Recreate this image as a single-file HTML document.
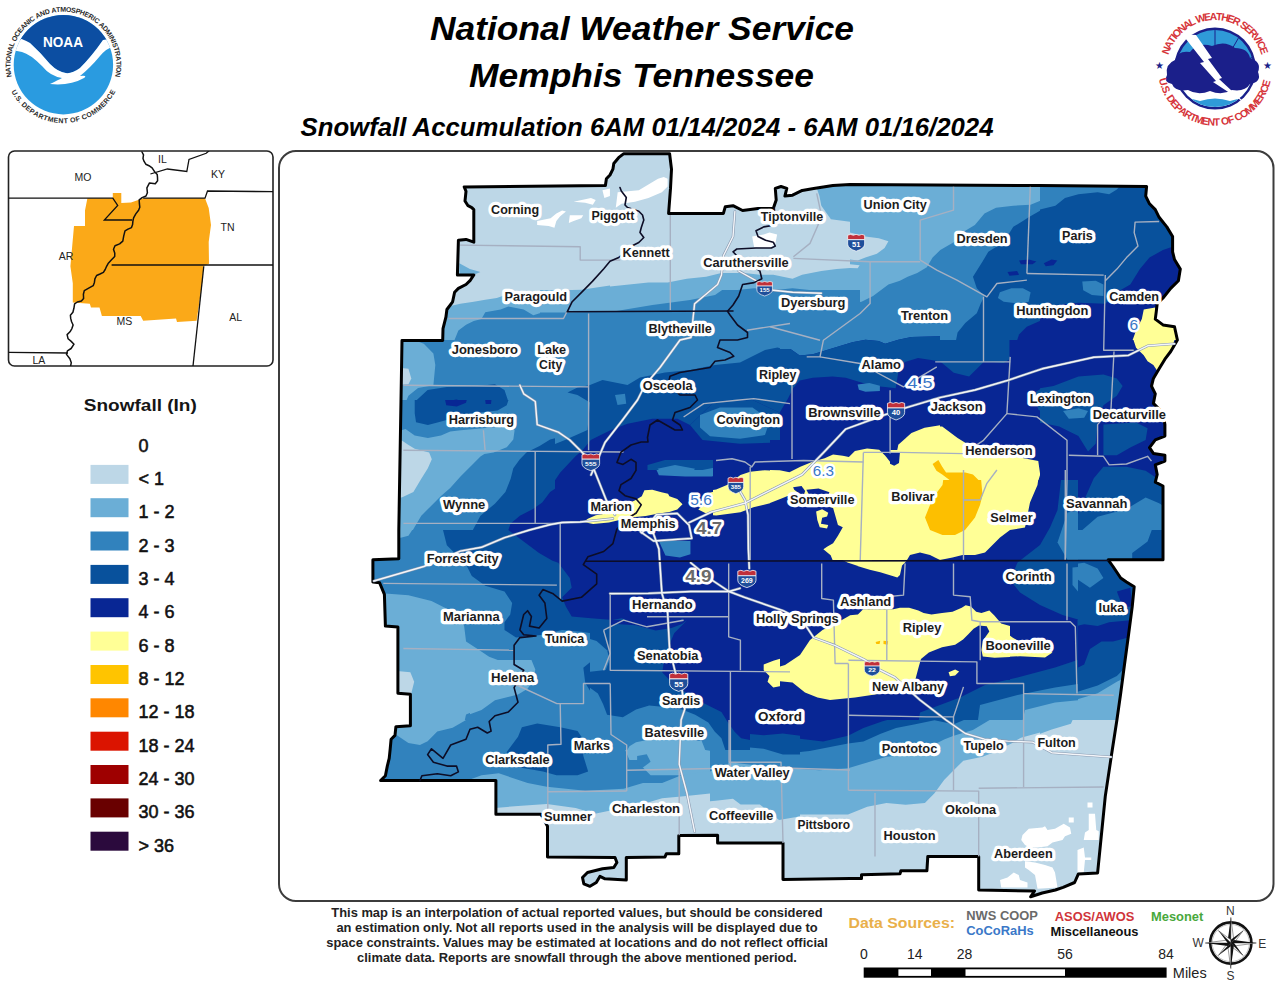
<!DOCTYPE html><html><head><meta charset="utf-8"><style>html,body{margin:0;padding:0;background:#fff;width:1280px;height:989px;overflow:hidden}svg{display:block}text{font-family:"Liberation Sans",sans-serif}</style></head><body>
<svg width="1280" height="989" viewBox="0 0 1280 989">
<rect width="1280" height="989" fill="#fff"/>
<g font-weight="bold" font-style="italic" fill="#000">
<text x="430" y="39.5" font-size="34" textLength="424" lengthAdjust="spacingAndGlyphs">National Weather Service</text>
<text x="469" y="87" font-size="34" textLength="345" lengthAdjust="spacingAndGlyphs">Memphis Tennessee</text>
<text x="300.5" y="135.5" font-size="25" textLength="693" lengthAdjust="spacingAndGlyphs">Snowfall Accumulation 6AM 01/14/2024 - 6AM 01/16/2024</text>
</g>
<rect x="279" y="151" width="994.5" height="750" rx="17" fill="none" stroke="#3c3c3c" stroke-width="2"/>
<rect x="8.5" y="151" width="264.5" height="215" rx="6" fill="none" stroke="#222" stroke-width="1.6"/>
<defs><clipPath id="cwa"><polygon points="464.2,186.9 605.4,185.5 606.4,178.8 610,175 612.9,169.2 613.8,163.5 618.6,157.7 623.5,153.8 669.6,153.8 671.5,169.2 670.5,188.4 668.6,213.4 723.4,213.4 725.3,206.7 733,205.7 742.6,210.5 758,208.6 773.3,208.6 776.2,200 775.3,188.4 781,186.5 786.8,188.4 784.9,196.1 792.6,195.2 802.2,190.4 813.7,188.4 832.9,185.5 850,184.6 1040,185.5 1146.6,186.5 1145.7,196.1 1149.5,203.8 1155.3,209.6 1159.1,217.3 1166.8,226.9 1172.6,236.5 1172.6,251.8 1174.5,259.5 1180.3,269.1 1178.4,280.7 1170.7,288.4 1163,298 1157.2,303.7 1156.3,311.4 1155.3,319.1 1163,324.9 1174.5,326.8 1177.4,340 1170.7,351.5 1164.9,359.2 1159.1,368.8 1153.4,378.4 1151.5,386.1 1155.3,393.8 1153.4,403.4 1163,413 1164.9,424.6 1164.9,436.1 1155.3,439.9 1149.5,447.6 1153.4,453.4 1164.9,455.3 1164.9,461.1 1155.3,464.9 1157.2,474.5 1155.3,482.2 1163,486 1163,559.8 1108.2,559.8 1113,566.5 1120.7,578 1126.5,581.9 1134.2,586.7 1132.2,606.9 1128.4,635.7 1124.5,664.5 1120.7,693.3 1116.9,720 1111.1,757.6 1105.3,796.1 1097.6,872.9 1078.4,873.9 1074.6,882.5 1063.1,887.4 1055.4,890 1042.2,893 1030.6,896.8 1034.5,891 978.7,890.1 978.7,856.4 927.8,856.4 926.9,870.8 900.9,870.8 900,873.7 861.5,874.7 861.5,878.5 850,878.5 783,879.5 783,843 717.6,843 717.6,835.3 678.8,835.6 678.8,853.8 666.3,853.8 665,856.9 626.3,857.5 626.3,880 605,878.8 600,876.3 596.3,882.5 590,886.3 583.8,883.8 582.5,877.5 587.5,872.5 602.5,868.8 613.8,867.5 616.9,862.5 615,857.5 547.5,856.9 547.5,826.3 541,814.2 495.9,814.2 495.9,780.5 380.6,780.5 385.4,775.7 387.3,766.1 389.2,758.4 390.2,748.8 391.1,739.2 395,735.4 395.9,726.7 410.4,725.8 410.4,694.3 397.9,693.3 397.9,627 385.4,626.1 384.4,594.4 379.6,582.8 372.9,581.9 372.9,559.8 398.8,558.8 398.8,530 401,400 402,340.5 442.7,340.5 443,328.7 445.9,317.2 446.9,309.5 452.6,301.8 454.6,292.2 458.4,288.4 466,284.5 470,280.7 473.8,274.9 457.4,274.9 458.4,240.3 466,239.4 473.8,242.2 473.8,209.6 471.8,207.6 468,205.7 465,201 466,191.3"/></clipPath>
<clipPath id="t0"><rect x="370" y="150" width="240" height="190"/></clipPath>
<clipPath id="t1"><rect x="610" y="150" width="240" height="190"/></clipPath>
<clipPath id="t2"><rect x="850" y="150" width="240" height="190"/></clipPath>
<clipPath id="t3"><rect x="1040" y="150" width="240" height="190"/></clipPath>
<clipPath id="t4"><rect x="370" y="340" width="240" height="190"/></clipPath>
<clipPath id="t5"><rect x="610" y="340" width="240" height="190"/></clipPath>
<clipPath id="t6"><rect x="850" y="340" width="240" height="190"/></clipPath>
<clipPath id="t7"><rect x="1040" y="340" width="240" height="190"/></clipPath>
<clipPath id="t8"><rect x="370" y="530" width="240" height="190"/></clipPath>
<clipPath id="t9"><rect x="610" y="530" width="240" height="190"/></clipPath>
<clipPath id="t10"><rect x="850" y="530" width="240" height="190"/></clipPath>
<clipPath id="t11"><rect x="1040" y="530" width="240" height="190"/></clipPath>
<clipPath id="t12"><rect x="370" y="720" width="240" height="190"/></clipPath>
<clipPath id="t13"><rect x="610" y="720" width="240" height="190"/></clipPath>
<clipPath id="t14"><rect x="850" y="720" width="240" height="190"/></clipPath>
<clipPath id="t15"><rect x="1090" y="720" width="190" height="190"/></clipPath>
<clipPath id="t16"><rect x="470" y="660" width="240" height="190"/></clipPath>
<clipPath id="t17"><rect x="800" y="680" width="240" height="190"/></clipPath>
<clipPath id="t18"><rect x="540" y="290" width="320" height="200"/></clipPath>
<clipPath id="t19"><rect x="780" y="480" width="298" height="240"/></clipPath>
<clipPath id="t20"><rect x="395" y="400" width="160" height="130"/></clipPath>
<clipPath id="t21"><rect x="580" y="470" width="160" height="130"/></clipPath>
<clipPath id="t22"><rect x="780" y="320" width="160" height="130"/></clipPath>
<clipPath id="t23"><rect x="590" y="620" width="160" height="130"/></clipPath>
<clipPath id="t24"><rect x="850" y="566" width="160" height="114"/></clipPath>
<clipPath id="t25"><rect x="713" y="455" width="57" height="70"/></clipPath>
<clipPath id="t26"><rect x="770" y="440" width="120" height="120"/></clipPath>
<clipPath id="t27"><rect x="990" y="800" width="130" height="100"/></clipPath>
</defs>
<g clip-path="url(#cwa)">
<polygon points="464.2,186.9 605.4,185.5 606.4,178.8 610,175 612.9,169.2 613.8,163.5 618.6,157.7 623.5,153.8 669.6,153.8 671.5,169.2 670.5,188.4 668.6,213.4 723.4,213.4 725.3,206.7 733,205.7 742.6,210.5 758,208.6 773.3,208.6 776.2,200 775.3,188.4 781,186.5 786.8,188.4 784.9,196.1 792.6,195.2 802.2,190.4 813.7,188.4 832.9,185.5 850,184.6 1040,185.5 1146.6,186.5 1145.7,196.1 1149.5,203.8 1155.3,209.6 1159.1,217.3 1166.8,226.9 1172.6,236.5 1172.6,251.8 1174.5,259.5 1180.3,269.1 1178.4,280.7 1170.7,288.4 1163,298 1157.2,303.7 1156.3,311.4 1155.3,319.1 1163,324.9 1174.5,326.8 1177.4,340 1170.7,351.5 1164.9,359.2 1159.1,368.8 1153.4,378.4 1151.5,386.1 1155.3,393.8 1153.4,403.4 1163,413 1164.9,424.6 1164.9,436.1 1155.3,439.9 1149.5,447.6 1153.4,453.4 1164.9,455.3 1164.9,461.1 1155.3,464.9 1157.2,474.5 1155.3,482.2 1163,486 1163,559.8 1108.2,559.8 1113,566.5 1120.7,578 1126.5,581.9 1134.2,586.7 1132.2,606.9 1128.4,635.7 1124.5,664.5 1120.7,693.3 1116.9,720 1111.1,757.6 1105.3,796.1 1097.6,872.9 1078.4,873.9 1074.6,882.5 1063.1,887.4 1055.4,890 1042.2,893 1030.6,896.8 1034.5,891 978.7,890.1 978.7,856.4 927.8,856.4 926.9,870.8 900.9,870.8 900,873.7 861.5,874.7 861.5,878.5 850,878.5 783,879.5 783,843 717.6,843 717.6,835.3 678.8,835.6 678.8,853.8 666.3,853.8 665,856.9 626.3,857.5 626.3,880 605,878.8 600,876.3 596.3,882.5 590,886.3 583.8,883.8 582.5,877.5 587.5,872.5 602.5,868.8 613.8,867.5 616.9,862.5 615,857.5 547.5,856.9 547.5,826.3 541,814.2 495.9,814.2 495.9,780.5 380.6,780.5 385.4,775.7 387.3,766.1 389.2,758.4 390.2,748.8 391.1,739.2 395,735.4 395.9,726.7 410.4,725.8 410.4,694.3 397.9,693.3 397.9,627 385.4,626.1 384.4,594.4 379.6,582.8 372.9,581.9 372.9,559.8 398.8,558.8 398.8,530 401,400 402,340.5 442.7,340.5 443,328.7 445.9,317.2 446.9,309.5 452.6,301.8 454.6,292.2 458.4,288.4 466,284.5 470,280.7 473.8,274.9 457.4,274.9 458.4,240.3 466,239.4 473.8,242.2 473.8,209.6 471.8,207.6 468,205.7 465,201 466,191.3" fill="#bdd7e7"/>
<g clip-path="url(#t0)">
<polygon points="459.333,263.347 469.899,269.11 480.465,271.992 473.741,274.874 459.333,274.874" fill="#6baed6"/>
<polygon points="441.082,307.533 452.609,305.612 460.293,303.691 473.741,301.769 485.268,299.848 496.795,297.927 508.322,294.085 523.691,292.164 542.902,291.203 562.113,290.243 581.325,289.858 609.949,285.44 619.747,285.44 619.747,351.719 441.082,351.719" fill="#6baed6"/>
<polygon points="454.53,351.719 454.53,340 458.372,330.586 466.057,324.823 473.741,320.981 481.426,319.06 485.268,312.336 500.637,309.454 508.322,306.572 523.691,309.454 533.296,315.217 542.902,312.336 554.429,310.415 567.877,312.336 581.325,313.296 589.009,317.139 609.949,315.217 619.747,315.217 619.747,351.719" fill="#3182bd"/>
<polygon points="537.139,221.082 550.586,218.2 556.35,213.397 562.113,210.516 565.956,211.476 560.192,216.279 556.35,221.082 554.429,227.806 548.665,225.885 537.139,224.924" fill="#ffffff"/>
<polygon points="569.798,215.319 583.246,215.319 581.325,218.2 573.64,221.082 568.837,223.003" fill="#ffffff"/>
<polygon points="573.64,201.871 590.93,198.028 595.733,199.949 592.851,204.752 585.167,202.831" fill="#ffffff"/>
<polygon points="602.457,190.344 609.949,188.423 609.949,196.107 604.378,198.028" fill="#ffffff"/>
</g>
<g clip-path="url(#t1)">
<polygon points="600.394,287.361 610,286.4 629.211,284.479 648.423,282.558 667.634,282.558 686.845,278.716 706.057,276.795 721.426,272.952 744.479,272.952 759.848,274.874 773.296,274.874 782.902,276.795 792.508,278.716 802.113,274.874 821.325,271.031 836.694,269.11 859.747,267.189 859.747,351.719 600.394,351.719" fill="#6baed6"/>
<polygon points="813.64,178.817 859.747,178.817 859.747,223.003 830.93,219.161 821.325,205.713 819.403,196.107" fill="#6baed6"/>
<polygon points="600.394,315.217 610,315.217 629.211,313.296 648.423,307.533 658.028,301.769 677.24,297.927 696.451,294.085 715.662,292.164 734.874,290.243 754.085,288.322 773.296,290.243 792.508,288.322 811.719,290.243 821.325,293.124 859.747,294.085 859.747,351.719 600.394,351.719" fill="#3182bd"/>
<polygon points="615.763,207.634 617.685,192.265 638.817,190.344 648.423,184.58 658.028,178.817 663.792,176.896 667.634,178.817 667.634,186.502 661.871,192.265 648.423,198.028 634.975,201.871 621.527,203.792" fill="#ffffff"/>
<polygon points="752.164,236.451 763.691,234.53 769.454,232.609 777.139,234.53 775.217,244.135 769.454,247.978 754.085,247.017" fill="#ffffff"/>
</g>
<g clip-path="url(#t2)">
<polygon points="840.394,178.817 1099.75,178.817 1099.75,351.719 840.394,351.719" fill="#6baed6"/>
<polygon points="840.394,230.688 850,232.609 865.369,236.451 878.817,238.372 888.423,241.254 884.58,247.978 876.896,253.741 865.369,257.583 857.685,260.465 850,259.505 840.394,259.505" fill="#bdd7e7"/>
<polygon points="840.394,263.347 859.606,265.268 857.685,268.15 840.394,267.573" fill="#bdd7e7"/>
<polygon points="840.394,303.691 850,303.691 861.527,301.769 873.054,296.006 888.423,284.479 899.949,280.637 907.634,276.795 917.24,272.952 926.845,267.189 932.609,257.583 940.293,249.899 953.741,242.214 965.268,230.688 974.874,224.924 984.479,213.397 996.006,207.634 1013.3,205.713 1030.59,204.752 1042.11,199.949 1061.32,196.107 1099.75,194.186 1099.75,351.719 840.394,351.719" fill="#3182bd"/>
<polygon points="1099.75,194.186 1067.09,198.028 1061.32,207.634 1042.11,209.555 1028.67,217.24 1022.9,221.082 1013.3,226.845 1003.69,242.214 988.322,251.82 982.558,261.426 972.952,276.795 976.795,288.322 984.479,296.006 980.637,303.691 976.795,313.296 965.268,322.902 957.583,332.508 953.741,351.719 1099.75,351.719" fill="#08519c"/>
<polygon points="999.848,292.164 1011.38,288.322 1022.9,288.322 1030.59,292.164 1028.67,301.769 1019.06,303.691 1003.69,301.769 997.927,297.927" fill="#3182bd"/>
<polygon points="1013.3,351.719 1019.06,334.429 1026.74,326.744 1042.11,320.02 1061.32,317.139 1099.75,315.217 1099.75,351.719" fill="#082694"/>
<polygon points="1019.06,260.465 1028.67,259.505 1036.35,261.426 1032.51,264.307 1020.98,264.307" fill="#082694"/>
<polygon points="1044.03,261.426 1051.72,258.544 1057.48,260.465 1053.64,265.268 1045.96,266.229" fill="#082694"/>
<polygon points="1007.53,271.992 1017.14,271.031 1019.06,274.874 1009.45,275.834" fill="#082694"/>
</g>
<g clip-path="url(#t3)">
<polygon points="1030.39,178.817 1289.75,178.817 1289.75,351.719 1030.39,351.719" fill="#08519c"/>
<polygon points="1030.39,178.817 1126.45,178.817 1116.85,189.383 1109.16,194.186 1097.63,192.265 1078.42,194.186 1064.97,198.028 1055.37,205.713 1040,209.555 1030.39,210.516" fill="#3182bd"/>
<polygon points="1030.39,307.533 1059.21,304.651 1078.42,302.73 1105.32,303.691 1116.85,292.164 1130.29,284.479 1139.9,269.11 1149.5,257.583 1162.95,249.899 1174.48,246.057 1193.69,246.057 1193.69,351.719 1030.39,351.719" fill="#082694"/>
<polygon points="1082.26,281.598 1095.71,280.637 1103.4,284.479 1103.4,296.006 1091.87,295.046 1083.23,290.243" fill="#3182bd"/>
<polygon points="1043.84,263.347 1051.53,259.505 1057.29,260.465 1053.45,265.268 1045.76,266.229" fill="#082694"/>
<polygon points="1143.74,309.454 1155.27,307.533 1155.27,319.06 1162.95,324.823 1176.4,327.705 1182.16,351.719 1128.37,351.719 1136.06,330.586 1141.82,319.06" fill="#ffff96"/>
</g>
<g clip-path="url(#t4)">
<polygon points="360.394,330.394 619.747,330.394 619.747,541.719 360.394,541.719" fill="#3182bd"/>
<polygon points="389.211,330.394 414.186,330.394 414.186,340 423.792,343.842 433.397,353.448 435.319,364.975 433.397,385.147 418.028,388.028 408.423,395.713 403.62,407.24 404.58,420.688 410.344,430.293 419.949,436.057 389.211,541.719" fill="#6baed6"/>
<polygon points="389.211,366.896 408.423,368.817 411.304,378.423 408.423,384.186 389.211,385.147" fill="#bdd7e7"/>
<polygon points="415.147,401.476 427.634,389.949 446.845,387.068 477.583,386.107 494.874,384.186 504.479,389.949 508.322,401.476 504.479,411.082 485.268,413.964 466.057,416.845 446.845,422.609 433.397,424.53 417.068,420.688 415.147,413.003" fill="#08519c"/>
<polygon points="444.924,401.476 456.451,399.555 469.899,403.397 466.057,407.24 446.845,407.24" fill="#082694"/>
<polygon points="485.268,400.516 491.031,401.476 490.071,404.358 485.268,404.358" fill="#082694"/>
<polygon points="567.877,391.871 573.64,388.028 589.009,383.225 589.009,401.476 577.482,401.476 569.798,397.634" fill="#08519c"/>
<polygon points="619.747,416.845 590.93,436.057 581.325,447.583 562.113,451.426 542.902,459.11 533.296,474.479 523.691,493.691 514.085,512.902 504.479,541.719 619.747,541.719" fill="#08519c"/>
<polygon points="619.747,428.372 610.91,429.909 600.728,434.904 590.546,439.899 582.477,449.889 575.369,456.036 560.192,472.558 545.207,494.651 530.03,506.754 504.479,530 494.874,541.719 619.747,541.719" fill="#082694"/>
</g>
<g clip-path="url(#t5)">
<polygon points="600.394,330.394 859.747,330.394 859.747,541.719 600.394,541.719" fill="#082694"/>
<polygon points="600.394,330.394 859.747,330.394 859.747,340 821.325,340 802.113,343.842 786.744,349.606 773.296,347.685 763.691,351.527 744.479,359.211 725.268,364.975 696.451,368.817 667.634,370.738 638.817,376.502 610,378.423 600.394,378.423" fill="#3182bd"/>
<polygon points="600.394,378.423 610,378.423 638.817,376.502 667.634,370.738 696.451,368.817 725.268,364.975 744.479,359.211 763.691,351.527 773.296,347.685 786.744,349.606 802.113,343.842 821.325,340 859.747,336.158 859.747,374.58 821.325,376.502 804.034,378.423 792.508,382.265 782.902,397.634 779.06,403.397 754.085,397.634 717.583,399.555 686.845,420.688 667.634,417.806 638.817,418.766 610,420.688 600.394,420.688" fill="#08519c"/>
<polygon points="830.93,330.394 859.747,330.394 859.747,345.763 840.536,351.527 829.009,349.606" fill="#3182bd"/>
<polygon points="613.842,386.107 621.527,380.344 629.211,382.265 627.29,391.871 621.527,397.634 615.763,403.397 612.882,397.634" fill="#3182bd"/>
<polygon points="686.845,420.688 717.583,399.555 754.085,397.634 779.06,403.397 788.665,416.845 779.06,420.688 763.691,432.214 744.479,437.978 715.662,436.057 696.451,424.53" fill="#08519c"/>
<polygon points="702.214,416.845 717.583,411.082 734.874,411.082 752.164,416.845 756.006,426.451 744.479,436.057 721.426,436.057 706.057,428.372" fill="#3182bd"/>
<polygon points="648.423,459.11 677.24,455.268 709.899,457.189 729.11,461.031 744.479,466.795 748.322,478.322 734.874,486.006 706.057,484.085 667.634,478.322 648.423,474.479" fill="#08519c"/>
<polygon points="652.265,468.716 667.634,464.874 686.845,466.795 690.688,474.479 667.634,477.361 654.186,474.479" fill="#3182bd"/>
<polygon points="704.135,470.637 717.583,467.755 731.031,470.637 729.11,476.4 709.899,476.4" fill="#3182bd"/>
<polygon points="600.394,521.547 610,520.586 625.369,518.665 638.817,516.744 658.028,514.823 673.397,510.981 681.082,505.217 677.24,497.533 659.949,493.691 648.423,491.769 638.817,489.848 629.211,493.691 610,501.375 600.394,503.296" fill="#ffff96"/>
<polygon points="690.688,509.06 702.214,499.454 715.662,493.691 734.874,490.809 748.322,478.322 763.691,471.598 782.902,468.716 802.113,464.874 821.325,460.071 840.536,455.268 859.747,454.307 859.747,486.006 827.088,491.769 811.719,487.927 792.508,487.927 782.902,493.691 773.296,501.375 744.479,509.06 715.662,512.902 696.451,514.823" fill="#ffff96"/>
<polygon points="792.508,487.927 802.113,486.006 811.719,488.888 821.325,490.809 829.009,493.691 813.64,499.454 794.429,497.533" fill="#082694"/>
<polygon points="815.561,509.06 830.93,507.139 840.536,512.902 850.142,509.06 859.747,507.139 859.747,541.719 813.64,541.719 817.482,524.429" fill="#ffff96"/>
</g>
<g clip-path="url(#t6)">
<polygon points="840.394,330.394 1099.75,330.394 1099.75,541.719 840.394,541.719" fill="#082694"/>
<polygon points="840.394,330.394 984.479,330.394 984.479,361.132 1003.69,363.054 1009.45,359.211 1009.45,330.394 1099.75,330.394 1099.75,338.079 984.479,340 984.479,361.132 969.11,376.502 953.741,372.659 939.909,361.132 931.072,360.172 918.008,358.059 904.944,362.093 898.22,372.659 895.723,388.413 840.394,389.949" fill="#08519c"/>
<polygon points="840.394,330.394 907.634,330.394 903.792,345.763 888.423,345.763 878.817,340 840.394,340" fill="#3182bd"/>
<polygon points="1032.51,393.792 1042.11,388.028 1061.32,382.265 1099.75,376.502 1099.75,441.82 1070.93,430.293 1051.72,420.688 1038.27,409.161" fill="#08519c"/>
<polygon points="1049.8,411.082 1061.32,408.2 1070.93,413.003 1065.17,418.766 1053.64,417.806" fill="#3182bd"/>
<polygon points="1070.93,512.902 1089.95,505.217 1099.75,505.217 1099.75,541.719 1065.17,541.719" fill="#08519c"/>
<polygon points="840.394,455.268 863.448,451.426 884.58,453.347 898.028,443.741 907.634,439.899 919.161,432.214 930.688,426.451 942.214,426.451 949.899,432.214 957.583,437.978 972.952,447.583 984.479,450.465 1038.27,461.031 1040.19,474.479 1034.43,493.691 1030.59,505.217 1022.9,516.744 1015.22,524.429 1003.69,541.719 840.394,541.719" fill="#ffff96"/>
<polygon points="884.58,452.386 899.949,452.386 898.989,462.952 894.186,465.834 888.423,462.952 885.541,459.11" fill="#082694"/>
<polygon points="934.53,493.691 940.293,486.006 949.899,480.243 942.214,474.479 936.451,470.637 932.609,463.913 938.372,460.071 942.214,466.795 946.057,472.558 957.583,472.558 965.268,472.558 972.952,474.479 978.716,480.243 982.558,489.848 980.637,499.454 974.874,512.902 969.11,524.429 961.426,541.719 930.688,541.719 926.845,520.586 930.688,505.217" fill="#fdbf00"/>
</g>
<g clip-path="url(#t7)">
<polygon points="1030.39,330.394 1289.75,330.394 1289.75,541.719 1030.39,541.719" fill="#082694"/>
<polygon points="1130.29,330.394 1193.69,330.394 1174.48,340 1170.64,351.527 1162.95,363.054 1157.19,370.738 1153.35,364.975 1147.58,361.132 1143.74,355.369 1136.06,347.685" fill="#ffff96"/>
<polygon points="1030.39,389.949 1053.45,386.107 1078.42,376.502 1103.4,374.58 1116.85,378.423 1122.61,386.107 1116.85,395.713 1103.4,405.319 1097.63,422.609 1095.71,443.741 1088.03,451.426 1078.42,436.057 1059.21,426.451 1030.39,420.688" fill="#08519c"/>
<polygon points="1063.05,411.082 1078.42,408.2 1088.03,411.082 1084.19,417.806 1068.82,418.766" fill="#3182bd"/>
<polygon points="1103.4,424.53 1136.06,422.609 1147.58,428.372 1145.66,439.899 1130.29,447.583 1116.85,455.268 1103.4,455.268" fill="#08519c"/>
<polygon points="1068.82,541.719 1078.42,512.902 1093.79,478.322 1103.4,466.795 1126.45,466.795 1145.66,470.637 1162.95,482.164 1174.48,486.006 1174.48,541.719" fill="#08519c"/>
<polygon points="1068.82,541.719 1097.63,516.744 1126.45,509.06 1145.66,497.533 1159.11,503.296 1174.48,512.902 1174.48,541.719" fill="#3182bd"/>
</g>
<g clip-path="url(#t8)">
<polygon points="360.394,520.394 619.747,520.394 619.747,731.719 360.394,731.719" fill="#3182bd"/>
<polygon points="360.394,593.397 385.369,593.397 408.423,595.319 431.476,601.082 446.845,608.766 460.293,618.372 464.135,626.057 466.057,641.426 477.583,649.11 489.11,656.795 504.479,662.558 516.006,668.322 516.006,683.691 504.479,697.139 485.268,706.744 466.057,714.429 462.214,731.719 360.394,731.719" fill="#6baed6"/>
<polygon points="398.817,520.394 414.186,520.394 412.265,530 408.423,535.763 400.738,537.685 396.896,537.685" fill="#6baed6"/>
<polygon points="389.211,670.243 410.344,672.164 414.186,681.769 411.304,693.296 389.211,693.296" fill="#bdd7e7"/>
<polygon points="443.003,520.394 443.003,530 446.845,545.369 466.057,564.58 471.82,576.107 485.268,585.713 504.479,591.476 512.164,603.003 510.243,614.53 504.479,622.214 504.479,629.899 516.006,637.583 542.902,634.702 562.113,629.899 581.325,631.82 619.747,637.583 619.747,520.394" fill="#08519c"/>
<polygon points="508.322,520.394 508.322,530 523.691,541.527 539.06,553.054 552.508,560.738 558.271,562.659 569.798,578.028 571.719,587.634 562.113,597.24 565.956,606.845 571.719,616.451 590.93,618.372 619.747,620.293 619.747,520.394" fill="#082694"/>
<polygon points="585.167,668.322 619.747,664.479 619.747,731.719 589.009,731.719 585.167,683.691" fill="#08519c"/>
</g>
<g clip-path="url(#t9)">
<polygon points="600.394,520.394 859.747,520.394 859.747,731.719 600.394,731.719" fill="#082694"/>
<polygon points="659.949,541.527 688.766,541.527 688.766,556.896 673.397,558.817 659.949,551.132" fill="#3182bd"/>
<polygon points="600.394,622.214 621.527,618.372 638.817,624.135 658.028,631.82 667.634,627.978 683.003,618.372 673.397,637.583 665.713,649.11 663.792,664.479 677.24,672.164 706.057,676.006 725.268,683.691 729.11,731.719 600.394,731.719" fill="#08519c"/>
<polygon points="600.394,702.902 629.211,706.744 667.634,702.902 725.268,706.744 729.11,731.719 600.394,731.719" fill="#3182bd"/>
<polygon points="763.691,664.479 773.296,660.637 786.744,656.795 802.113,649.11 813.64,641.426 821.325,631.82 830.93,622.214 840.536,614.53 859.747,606.845 859.747,731.719 830.93,714.429 821.325,700.981 802.113,691.375 792.508,683.691 773.296,687.533 767.533,681.769 769.454,676.006 763.691,670.243" fill="#ffff96"/>
<polygon points="823.246,549.211 832.851,541.527 840.536,530 859.747,520.394 859.747,562.659 840.536,558.817 829.009,553.054" fill="#ffff96"/>
</g>
<g clip-path="url(#t10)">
<polygon points="840.394,520.394 1099.75,520.394 1099.75,731.719 840.394,731.719" fill="#082694"/>
<polygon points="1019.06,520.394 1099.75,520.394 1099.75,622.214 1069.01,620.293 1051.72,614.53 1032.51,603.003 1019.06,587.634 1015.22,560.738 1003.69,541.527" fill="#08519c"/>
<polygon points="1065.17,520.394 1099.75,520.394 1099.75,560.738 1065.17,560.738" fill="#3182bd"/>
<polygon points="1070.93,568.423 1089.95,562.659 1099.75,562.659 1099.75,587.634 1080.54,585.713 1070.93,579.949" fill="#3182bd"/>
<polygon points="1076.69,622.214 1099.75,622.214 1099.75,731.719 1076.69,731.719" fill="#08519c"/>
<polygon points="953.741,731.719 957.583,714.429 984.479,697.139 1003.69,687.533 1042.11,681.769 1061.32,676.006 1076.69,668.322 1099.75,664.479 1099.75,731.719" fill="#08519c"/>
<polygon points="1019.06,731.719 1022.9,699.06 1042.11,695.217 1080.54,691.375 1099.75,687.533 1099.75,731.719" fill="#3182bd"/>
<polygon points="1042.11,731.719 1051.72,708.665 1070.93,702.902 1099.75,699.06 1099.75,731.719" fill="#6baed6"/>
<polygon points="840.394,520.394 997.927,520.394 992.164,541.527 988.322,549.211 972.952,551.132 965.268,554.975 963.347,560.738 936.451,560.738 926.845,554.975 915.319,551.132 907.634,560.738 840.394,561.699" fill="#ffff96"/>
<polygon points="840.394,610.688 859.606,608.766 878.817,609.727 898.028,606.845 917.24,608.766 930.688,612.609 942.214,610.688 957.583,606.845 965.268,604.924 972.952,610.688 980.637,616.451 992.164,614.53 1001.77,626.057 1013.3,633.741 1026.74,641.426 1042.11,643.347 1051.72,647.189 1042.11,654.874 1022.9,656.795 994.085,657.755 982.558,654.874 980.637,637.583 974.874,626.057 971.031,633.741 949.899,645.268 934.53,651.031 923.003,658.716 919.161,668.322 919.161,676.006 907.634,683.691 840.394,693.296" fill="#ffff96"/>
</g>
<g clip-path="url(#t11)">
<polygon points="1030.39,520.394 1289.75,520.394 1289.75,731.719 1030.39,731.719" fill="#08519c"/>
<polygon points="1064.97,520.394 1155.27,520.394 1147.58,541.527 1132.21,553.054 1132.21,559.778 1064.97,559.778" fill="#3182bd"/>
<polygon points="1070.74,564.58 1084.19,562.659 1097.63,568.423 1103.4,578.028 1089.95,587.634 1078.42,579.949 1070.74,576.107" fill="#3182bd"/>
<polygon points="1116.85,591.476 1130.29,587.634 1132.21,606.845 1122.61,606.845" fill="#082694"/>
<polygon points="1030.39,622.214 1070.74,622.214 1076.5,626.057 1084.19,624.135 1097.63,626.057 1109.16,622.214 1130.29,620.293 1128.37,637.583 1113,641.426 1101.48,641.426 1089.95,649.11 1084.19,664.479 1076.5,668.322 1059.21,679.848 1030.39,683.691" fill="#082694"/>
<polygon points="1030.39,697.139 1059.21,695.217 1078.42,691.375 1097.63,685.612 1116.85,676.006 1124.53,668.322 1136.06,664.479 1136.06,731.719 1030.39,731.719" fill="#3182bd"/>
<polygon points="1030.39,712.508 1059.21,706.744 1078.42,699.06 1097.63,693.296 1116.85,681.769 1128.37,676.006 1136.06,676.006 1136.06,731.719 1030.39,731.719" fill="#6baed6"/>
</g>
<g clip-path="url(#t12)">
<polygon points="360.394,710.394 619.747,710.394 619.747,921.719 360.394,921.719" fill="#3182bd"/>
<polygon points="360.394,710.394 467.978,710.394 466.057,720 452.609,727.685 437.24,731.527 427.634,741.132 419.949,744.975 408.423,743.054 396.896,735.369 360.394,735.369" fill="#6baed6"/>
<polygon points="508.322,750.738 523.691,729.606 539.06,723.842 554.429,723.842 562.113,727.685 579.403,729.606 581.325,748.817 587.088,771.871 562.113,775.713 542.902,771.871 516.006,766.107" fill="#08519c"/>
<polygon points="483.347,775.713 494.874,771.871 514.085,773.792 533.296,781.476 552.508,787.24 581.325,789.161 619.747,785.319 619.747,921.719 483.347,921.719" fill="#6baed6"/>
<polygon points="496.795,808.372 523.691,805.49 542.902,807.412 562.113,808.372 581.325,812.214 619.747,810.293 619.747,921.719 496.795,921.719" fill="#bdd7e7"/>
</g>
<g clip-path="url(#t13)">
<polygon points="600.394,710.394 859.747,710.394 859.747,921.719 600.394,921.719" fill="#6baed6"/>
<polygon points="600.394,710.394 859.747,710.394 859.747,768.028 780.981,768.028 729.11,762.265 725.268,768.028 713.741,769.949 698.372,775.713 683.003,769.949 679.161,768.028 658.028,777.634 648.423,785.319 629.211,787.24 610,791.082 600.394,791.082" fill="#3182bd"/>
<polygon points="623.448,750.738 633.054,739.211 648.423,741.132 667.634,744.975 677.24,758.423 677.24,769.949 652.265,769.949 638.817,768.028 627.29,762.265" fill="#6baed6"/>
<polygon points="731.031,710.394 859.747,710.394 859.747,768.028 821.325,758.423 802.113,754.58 782.902,754.58 763.691,748.817 744.479,746.896 731.031,744.975" fill="#08519c"/>
<polygon points="732.952,710.394 859.747,710.394 859.747,741.132 830.93,739.211 811.719,737.29 782.902,733.448 763.691,735.369 744.479,733.448 732.952,731.527" fill="#082694"/>
<polygon points="600.394,800.688 629.211,798.766 648.423,796.845 659.949,794.924 679.161,800.688 696.451,802.609 715.662,800.688 732.952,798.766 740.637,804.53 759.848,804.53 779.06,819.899 802.113,816.057 821.325,815.096 859.747,816.057 859.747,921.719 600.394,921.719" fill="#bdd7e7"/>
</g>
<g clip-path="url(#t14)">
<polygon points="840.394,710.394 1099.75,710.394 1099.75,921.719 840.394,921.719" fill="#bdd7e7"/>
<polygon points="840.394,710.394 1076.69,710.394 1070.93,723.842 1051.72,729.606 1030.59,737.29 1019.06,748.817 1007.53,756.502 1003.69,750.738 984.479,752.659 969.11,754.58 959.505,762.265 949.899,768.028 949.899,777.634 940.293,783.397 932.609,791.082 923.003,796.845 930.688,804.53 917.24,808.372 899.949,808.372 888.423,804.53 874.975,802.609 861.527,812.214 850,819.899 840.394,821.82" fill="#6baed6"/>
<polygon points="840.394,710.394 953.741,710.394 953.741,729.606 949.899,762.265 940.293,783.397 932.609,791.082 923.003,796.845 930.688,804.53 917.24,808.372 888.423,804.53 874.975,800.688 861.527,793.003 840.394,793.003" fill="#3182bd"/>
<polygon points="840.394,710.394 953.741,710.394 949.899,729.606 946.057,739.211 936.451,750.738 923.003,756.502 907.634,760.344 898.028,758.423 878.817,760.344 869.211,764.186 850,769.949 840.394,771.871" fill="#08519c"/>
<polygon points="840.394,710.394 907.634,710.394 898.028,723.842 878.817,731.527 859.606,739.211 840.394,743.054" fill="#082694"/>
</g>
<g clip-path="url(#t15)">
<polygon points="1030.39,690.394 1289.75,690.394 1289.75,901.719 1030.39,901.719" fill="#bdd7e7"/>
<polygon points="1030.39,690.394 1119.73,690.394 1116.85,715.369 1105.32,714.408 1093.79,719.211 1078.42,721.132 1064.97,723.054 1059.21,728.817 1051.53,732.659 1040,736.502 1030.39,738.423" fill="#6baed6"/>
<polygon points="1030.39,690.394 1068.82,690.394 1059.21,700 1049.61,703.842 1030.39,705.763" fill="#3182bd"/>
</g>
<g clip-path="url(#t16)">
<polygon points="460.394,650.394 719.747,650.394 719.747,861.719 460.394,861.719" fill="#3182bd"/>
<polygon points="460.394,650.394 527.634,650.394 535.319,669.606 533.397,679.211 527.634,688.817 518.028,694.58 494.975,700.344 481.527,709.949 460.394,717.634" fill="#6baed6"/>
<polygon points="583.347,667.685 604.479,650.394 719.747,650.394 719.747,717.634 681.325,709.949 652.508,706.107 637.139,709.949 619.848,719.555 604.479,713.792 594.874,698.423 585.268,683.054" fill="#08519c"/>
<polygon points="662.113,650.394 719.747,650.394 719.747,721.476 700.536,717.634 690.93,698.423 681.325,671.527 662.113,667.685" fill="#082694"/>
<polygon points="604.479,650.394 719.747,650.394 719.747,670.566 604.479,670.566" fill="#082694"/>
<polygon points="506.502,752.214 518.028,736.845 521.871,727.24 537.24,723.397 560.293,727.24 577.583,731.082 581.426,736.845 583.347,756.057 588.15,771.426 577.583,775.268 556.451,775.268 543.003,771.426 519.949,767.583" fill="#08519c"/>
<polygon points="623.691,746.451 633.296,740.688 652.508,740.688 671.719,744.53 719.747,752.214 719.747,775.268 681.325,775.268 650.586,775.268 642.902,767.583 639.06,759.899 629.454,759.899" fill="#6baed6"/>
<polygon points="460.394,782.952 481.527,775.268 498.817,773.347 527.634,782.952 546.845,786.795 585.268,790.637 623.691,788.716 642.902,782.952 662.113,782.952 681.325,775.268 719.747,769.505 719.747,861.719 460.394,861.719" fill="#6baed6"/>
<polygon points="637.139,756.057 646.744,754.135 650.586,761.82 642.902,767.583 637.139,764.702" fill="#3182bd"/>
<polygon points="494.975,807.927 518.028,806.006 546.845,804.085 575.662,807.927 594.874,813.691 614.085,809.848 642.902,804.085 662.113,798.322 681.325,796.4 719.747,792.558 719.747,861.719 494.975,861.719" fill="#bdd7e7"/>
</g>
<g clip-path="url(#t17)">
<polygon points="790.394,670.394 1049.75,670.394 1049.75,881.719 790.394,881.719" fill="#bdd7e7"/>
<polygon points="790.394,670.394 1049.75,670.394 1049.75,729.949 1020.93,737.634 1011.32,743.397 992.113,753.003 982.508,756.845 963.296,760.688 953.691,770.293 944.085,779.899 934.479,793.347 924.874,802.952 905.662,804.874 886.451,802.952 867.24,806.795 848.028,814.479 819.211,814.479 790.394,814.479" fill="#6baed6"/>
<polygon points="790.394,670.394 1049.75,670.394 1049.75,701.132 1022.85,706.896 1011.32,710.738 992.113,718.423 972.902,729.949 953.691,735.713 944.085,739.555 924.874,749.161 905.662,754.924 886.451,756.845 867.24,762.609 848.028,768.372 819.211,770.293 790.394,768.372" fill="#3182bd"/>
<polygon points="790.394,670.394 1049.75,670.394 1049.75,691.527 1022.85,693.448 1011.32,695.369 1001.72,701.132 982.508,710.738 963.296,720.344 953.691,724.186 934.479,720.344 915.268,724.186 896.057,728.028 880.688,733.792 863.397,741.476 848.028,743.397 828.817,747.24 809.606,751.082 790.394,753.003" fill="#08519c"/>
<polygon points="790.394,670.394 1049.75,670.394 1049.75,680 1022.85,683.842 1011.32,685.763 992.113,689.606 976.744,691.527 963.296,695.369 946.006,691.527 934.479,691.527 919.11,695.369 911.426,703.054 899.899,716.502 882.609,721.304 863.397,728.028 848.028,735.713 823.054,741.476 790.394,737.634" fill="#082694"/>
<polygon points="790.394,670.394 876.845,670.394 867.24,687.685 848.028,693.448 828.817,697.29 815.369,695.369 800,687.685 790.394,685.763" fill="#ffff96"/>
</g>
<g clip-path="url(#t18)">
<polygon points="527.5,277.5 865,277.5 865,552.5 527.5,552.5" fill="#3182bd"/>
<polygon points="527.5,277.5 865,277.5 740,277.5 715,295 690,300 652.5,305 615,311.25 570,312.5 527.5,312.5" fill="#6baed6"/>
<polygon points="527.5,277.5 865,277.5 865,287.5 740,285" fill="#6baed6"/>
<polygon points="527.5,455 540,450 565,440 587.5,430 590,402.5 577.5,395 567.5,392.5 577.5,387.5 590,385 602.5,380 627.5,385 640,377.5 665,372.5 690,370 715,365 740,362.5 765,350 777.5,347.5 802.5,355 827.5,347.5 865,340 865,372.5 840,372.5 802.5,375 790,380 780,400 790,410 790,452.5 527.5,552.5" fill="#08519c"/>
<polygon points="615,395 625,393.75 626.25,403.75 617.5,405" fill="#3182bd"/>
<polygon points="527.5,552.5 527.5,510 545.25,494.75 560.25,472.5 575.5,456.25 582.5,450.25 590.75,440 600.75,435 611,430 627.5,423.75 652.5,418.75 677.5,418.75 690,425 715,401.25 752.5,400 785,415 790,410 780,400 790,380 802.5,375 840,372.5 865,370 865,552.5" fill="#082694"/>
<polygon points="690,425 715,401.25 752.5,400 785,415 790,430 777.5,442.5 740,443.75 702.5,440" fill="#08519c"/>
<polygon points="700,415 720,407.5 752.5,407.5 770,420 765,435 740,438.75 710,436.25 700,427.5" fill="#3182bd"/>
<polygon points="647.5,465 665,460 715,460 732.5,465 735,480 715,482.5 665,481.25 647.5,475" fill="#08519c"/>
<polygon points="657.5,468.75 675,465 695,468.75 690,475 665,475" fill="#3182bd"/>
<polygon points="702.5,470 715,467.5 727.5,470 725,476.25 705,476.25" fill="#3182bd"/>
<polygon points="750,470 765,465 790,462.5 815,457.5 840,452.5 865,450 865,552.5 750,552.5" fill="#ffff96"/>
</g>
<g clip-path="url(#t19)">
<polygon points="767.5,467.5 1105,467.5 1105,742.5 767.5,742.5" fill="#082694"/>
<polygon points="767.5,467.5 855,467.5 855,495 815,492.5 795,487.5 767.5,490" fill="#ffff96"/>
<polygon points="795,486.25 805,483.75 815,487.5 815,492.5 795,490" fill="#082694"/>
<polygon points="840,467.5 1040,467.5 1037.5,485 1030,502.5 1025,527.5 1010,530 1000,537.5 992.5,545 985,552.5 975,555 962.5,555 952.5,557.5 940,560 930,555 920,552.5 910,555 906.25,561.25 902.5,565 895,575 880,572.5 862.5,567.5 847.5,562.5 842.5,560 822.5,550 830,542.5 840,532.5 842.5,522.5 838.75,507.5 840,492.5" fill="#ffff96"/>
<polygon points="767.5,467.5 795,467.5 795,487.5 767.5,490" fill="#ffff96"/>
<polygon points="817.5,512.5 827.5,508.75 840,511.25 838.75,517.5 830,517.5 826.25,522.5 838.75,523.75 840,528.75 827.5,528.75 817.5,523.75" fill="#ffff96"/>
<polygon points="767.5,670 785,665 800,655 810,640 822.5,630 837.5,622.5 855,612.5 890,610 915,608.75 930,611.25 950,612.5 965,607.5 972.5,606.25 980,612.5 987.5,616.25 995,622.5 1002.5,630 1012.5,637.5 1025,645 1040,647.5 1052.5,652.5 1045,657.5 1020,656.25 992.5,657.5 983.75,652.5 981.25,642.5 985,632.5 987.5,627.5 980,626.25 972.5,632.5 960,645 947.5,652.5 930,657.5 920,665 915,677.5 905,685 880,693.75 855,697.5 830,700 817.5,697.5 805,692.5 792.5,682.5 767.5,680" fill="#ffff96"/>
<polygon points="947.5,671.25 957.5,668.75 960,675 952.5,680 947.5,678.75" fill="#ffff96"/>
<polygon points="925,517.5 930,505 935,495 942.5,485 945,467.5 980,467.5 982.5,495 980,505 975,517.5 965,530 955,535 942.5,535 930,530" fill="#fdbf00"/>
<polygon points="876.25,642.5 881.25,640 881.25,645 876.25,645" fill="#fdbf00"/>
<polygon points="885,640 890,641.25 888.75,645 885,644.5" fill="#fdbf00"/>
<polygon points="1062.5,467.5 1105,467.5 1105,620 1080,620 1062.5,615 1040,605 1020,592.5 1010,580 1017.5,562.5 1040,545 1050,527.5 1057.5,510" fill="#08519c"/>
<polygon points="1067.5,512.5 1105,505 1105,560 1092.5,562.5 1067.5,560 1057.5,542.5" fill="#3182bd"/>
<polygon points="1072.5,567.5 1105,565 1105,605 1085,600 1072.5,585" fill="#3182bd"/>
<polygon points="1077.5,620 1105,620 1105,742.5 1077.5,742.5" fill="#08519c"/>
<polygon points="915,742.5 920,712.5 940,705 960,697.5 985,685 1017.5,677.5 1055,667.5 1077.5,660 1105,655 1105,742.5" fill="#08519c"/>
<polygon points="975,742.5 980,705 1017.5,695 1055,687.5 1105,680 1105,742.5" fill="#3182bd"/>
<polygon points="1017.5,742.5 1025,710 1055,702.5 1105,697.5 1105,742.5" fill="#6baed6"/>
</g>
<g clip-path="url(#t20)">
<polygon points="388.428,393.428 565.88,393.428 565.88,538.018 388.428,538.018" fill="#3182bd"/>
<polygon points="414.717,393.428 510.672,393.428 506.729,405.258 497.528,410.516 473.868,413.145 447.578,419.717 438.377,422.346 427.861,424.975 416.031,422.346 414.717,413.145" fill="#08519c"/>
<polygon points="443.635,393.428 468.61,393.428 465.981,402.629 456.78,406.572 446.264,405.258" fill="#082694"/>
<polygon points="484.383,393.428 492.27,393.428 490.956,403.943 485.698,403.943" fill="#082694"/>
<polygon points="388.428,434.176 405.516,428.918 414.717,435.49 427.861,438.119 441.006,435.49 450.207,431.547 460.723,430.233 483.069,428.261 510.672,426.289 514.616,430.233 513.301,439.434 506.729,447.321 493.584,452.578 484.383,453.893 480.44,456.522 471.239,465.723 460.723,476.239 450.207,488.069 441.006,495.956 431.805,505.157 421.289,515.672 408.145,538.018 388.428,538.018" fill="#6baed6"/>
<polygon points="388.428,439.434 402.23,440.748 408.145,444.692 414.717,448.635 429.176,452.578 431.805,459.151 427.861,468.352 421.289,478.868 413.402,492.012 402.23,497.27 388.428,499.899" fill="#bdd7e7"/>
<polygon points="565.88,435.49 550.106,439.434 539.59,446.006 526.446,452.578 519.874,459.151 513.301,468.352 510.672,478.868 505.415,492.012 494.899,503.842 480.44,515.672 468.61,538.018 565.88,538.018" fill="#08519c"/>
<polygon points="565.88,481.496 550.106,492.012 542.219,502.528 533.018,509.1 519.874,515.672 510.672,523.559 505.415,538.018 565.88,538.018" fill="#082694"/>
</g>
<g clip-path="url(#t21)">
<polygon points="573.428,463.428 750.88,463.428 750.88,608.018 573.428,608.018" fill="#082694"/>
<polygon points="653.61,463.428 724.59,463.428 724.59,473.943 711.446,476.572 685.157,476.572 658.868,475.258" fill="#3182bd"/>
<polygon points="658.868,540.981 690.415,540.981 690.415,554.125 679.899,557.412 665.44,555.44" fill="#3182bd"/>
<polygon points="583.286,521.921 587.887,518.635 595.774,515.349 606.289,513.377 619.434,512.063 632.578,501.547 635.207,500.233 641.78,496.289 644.408,490.374 652.295,489.717 661.496,492.346 668.069,493.66 669.383,496.289 677.27,498.918 682.528,504.176 677.27,509.434 669.383,512.063 658.868,513.377 645.723,516.006 632.578,517.321 619.434,519.949 608.918,522.578 593.145,523.893" fill="#ffff96"/>
<polygon points="706.188,493.66 711.446,492.346 724.59,489.717 750.88,485.774 750.88,512.063 731.163,512.063 718.018,512.063 706.188,513.377 698.301,509.434 703.559,504.176" fill="#ffff96"/>
</g>
<g clip-path="url(#t22)">
<polygon points="773.428,313.428 950.88,313.428 950.88,458.018 773.428,458.018" fill="#082694"/>
<polygon points="773.428,313.428 950.88,313.428 950.88,335.774 911.446,337.088 898.301,339.717 885.157,343.66 878.584,341.031 865.44,339.717 852.295,342.346 839.151,346.289 826.006,350.233 812.861,354.176 799.717,355.49 790.516,348.918 773.428,348.918" fill="#3182bd"/>
<polygon points="773.428,348.918 790.516,348.918 799.717,355.49 812.861,354.176 826.006,350.233 839.151,346.289 852.295,342.346 865.44,339.717 878.584,341.031 885.157,343.66 898.301,339.717 911.446,337.088 950.88,335.774 950.88,363.377 931.163,360.091 918.018,358.119 904.874,362.063 898.301,372.578 895.672,388.352 885.157,387.037 872.012,385.723 858.868,381.78 845.723,377.836 832.578,376.522 812.861,377.836 799.717,380.465 793.145,388.352 787.887,398.868 780,412.012 773.428,412.012" fill="#08519c"/>
<polygon points="857.553,384.408 869.383,383.094 879.899,385.723 879.899,390.981 865.44,391.638 858.868,389.666" fill="#3182bd"/>
<polygon points="898.301,444.874 911.446,433.043 924.59,427.786 939.97,425.157 950.88,425.157 950.88,458.018 895.672,458.018" fill="#ffff96"/>
</g>
<g clip-path="url(#t23)">
<polygon points="583.428,613.428 760.88,613.428 760.88,758.018 583.428,758.018" fill="#082694"/>
<polygon points="583.428,613.428 609.717,613.428 609.717,625.258 616.289,623.943 636.006,625.258 655.723,630.516 671.496,627.887 682.012,623.943 687.27,620 674.125,633.145 668.868,646.289 663.61,663.377 662.295,672.578 668.868,679.151 679.383,688.352 695.157,698.868 708.301,705.44 721.446,712.012 728.018,722.528 734.59,731.729 741.163,738.301 760.88,742.245 760.88,758.018 583.428,758.018" fill="#08519c"/>
<polygon points="583.428,637.088 596.572,641.031 607.088,650.233 609.717,659.434 605.774,669.949 583.428,672.578" fill="#3182bd"/>
<polygon points="583.428,683.094 597.887,693.61 603.145,704.125 607.088,714.641 622.861,717.27 636.006,709.383 649.151,705.44 662.295,706.754 682.012,709.383 695.157,714.641 708.301,722.528 714.874,731.729 721.446,738.301 728.018,758.018 583.428,758.018" fill="#3182bd"/>
<polygon points="622.861,758.018 629.434,746.188 636.006,742.245 655.723,738.301 682.012,739.616 701.729,740.93 708.301,758.018" fill="#6baed6"/>
</g>
<g clip-path="url(#t24)">
<polygon points="843.428,543.428 1020.88,543.428 1020.88,688.018 843.428,688.018" fill="#082694"/>
<polygon points="843.428,543.428 994.59,543.428 989.333,553.943 981.446,555.258 968.301,552.629 963.043,553.943 961.729,555.258 948.584,557.887 936.754,560.516 928.868,559.201 923.61,553.943 917.037,550 911.78,552.629 907.836,561.83 843.428,561.83" fill="#ffff96"/>
<polygon points="843.428,562.487 902.578,563.145 899.949,574.975 897.321,577.604 893.377,576.289 886.805,574.317 880.233,572.346 869.717,569.717 856.572,565.774 843.428,564.459" fill="#ffff96"/>
<polygon points="843.428,615.723 857.887,614.408 863.145,609.151 893.377,609.151 899.949,607.836 909.151,607.836 918.352,610.465 923.61,613.094 931.496,614.408 942.012,613.094 952.528,611.78 961.729,607.836 965.672,605.207 970.93,606.522 976.188,611.78 981.446,613.094 989.333,610.465 994.59,615.723 1001.16,623.61 1020.88,628.868 1020.88,656.471 994.59,657.786 982.76,656.471 981.446,649.899 982.76,640.698 989.333,631.496 986.704,626.239 978.817,625.581 973.559,628.868 968.301,634.125 963.043,639.383 955.157,644.641 942.012,647.27 928.868,652.528 920.981,659.1 918.352,668.301 913.094,688.018 843.428,688.018" fill="#ffff96"/>
<polygon points="948.584,672.245 955.157,669.616 959.1,671.587 955.157,675.531 949.899,676.188" fill="#ffff96"/>
<polygon points="875.632,642.012 880.233,640.698 879.575,643.984 876.289,643.984" fill="#fdbf00"/>
<polygon points="883.519,640.698 888.119,641.355 887.462,644.641 883.519,643.984" fill="#fdbf00"/>
</g>
<g clip-path="url(#t25)">
<polygon points="691.911,411.911 910.313,411.911 910.313,589.869 691.911,589.869" fill="#082694"/>
<polygon points="691.911,491.992 700,491.183 716.178,489.565 727.503,484.712 740.445,475.005 750.152,471.769 764.712,470.152 784.125,471.769 790.597,475.005 805.157,466.916 805.157,517.068 785.743,497.654 772.801,502.508 753.387,507.361 740.445,512.214 716.178,515.45 700,513.832 691.911,513.832" fill="#ffff96"/>
</g>
<g clip-path="url(#t26)">
<polygon points="763.933,433.933 927.735,433.933 927.735,567.401 763.933,567.401" fill="#082694"/>
<polygon points="763.933,470.334 770,469.97 779.707,470.334 789.414,472.154 800.334,466.694 812.467,461.84 824.601,458.2 833.094,454.56 842.801,455.774 848.868,456.987 854.934,450.92 867.068,448.493 879.201,449.707 885.268,455.774 890,461.84 897.401,464.267 897.401,567.401 835.521,567.401 830.667,555.268 823.387,549.201 827.027,546.775 833.094,543.134 837.947,535.854 842.801,527.361 837.947,524.934 833.094,507.947 788.2,495.814 782.133,498.241 770,503.094 763.933,504.307" fill="#ffff96"/>
<polygon points="793.054,487.321 801.547,486.107 805.187,490.961 803.974,494.601 799.12,493.387 794.267,489.747" fill="#082694"/>
<polygon points="806.4,489.747 818.534,488.534 829.454,492.174 828.241,495.207 808.827,494.601" fill="#082694"/>
<polygon points="816.107,511.587 822.174,509.161 828.241,512.801 827.027,516.441 822.174,517.654 820.961,523.721 828.241,524.934 827.027,528.574 819.747,527.361 817.321,520.081" fill="#ffff96"/>
</g>
<g clip-path="url(#t27)">
<polygon points="953.75,773.75 1122.5,773.75 1122.5,911.25 953.75,911.25" fill="#bdd7e7"/>
<polygon points="1021.25,840 1022.5,835 1028.75,828.75 1042.5,827.5 1045,826.25 1047.5,830 1055,828.75 1063.75,823.75 1070,827.5 1071.25,833.75 1065,836.25 1062.5,840 1052.5,842.5 1047.5,846.25 1037.5,847.5 1030,847.5 1025,845" fill="#ffffff"/>
<polygon points="1068.75,817.5 1073.75,817.5 1073.75,822.5 1068.75,822.5" fill="#ffffff"/>
<polygon points="1087.5,802.5 1092.5,802.5 1092.5,807.5 1087.5,807.5" fill="#ffffff"/>
<polygon points="1088.75,813.75 1095,813.75 1096.25,830 1098.75,831.25 1098.75,840 1083.75,840 1085,832.5 1088.75,830" fill="#ffffff"/>
<polygon points="1077.5,850 1083.75,847.5 1085,857.5 1091.25,857.5 1091.25,860 1085,860 1083.75,872.5 1077.5,872.5" fill="#ffffff"/>
<polygon points="1025,861.25 1035,862.5 1045,865 1052.5,867.5 1055,872.5 1057.5,887.5 1037.5,888.75 1035,875 1028.75,870 1025,867.5" fill="#ffffff"/>
<polygon points="1007.5,877.5 1013.75,872.5 1018.75,875 1020,880 1027.5,882.5 1027.5,887.5 1001.25,887.5 1000,880" fill="#ffffff"/>
</g>
</g>
<polygon points="464.2,186.9 605.4,185.5 606.4,178.8 610,175 612.9,169.2 613.8,163.5 618.6,157.7 623.5,153.8 669.6,153.8 671.5,169.2 670.5,188.4 668.6,213.4 723.4,213.4 725.3,206.7 733,205.7 742.6,210.5 758,208.6 773.3,208.6 776.2,200 775.3,188.4 781,186.5 786.8,188.4 784.9,196.1 792.6,195.2 802.2,190.4 813.7,188.4 832.9,185.5 850,184.6 1040,185.5 1146.6,186.5 1145.7,196.1 1149.5,203.8 1155.3,209.6 1159.1,217.3 1166.8,226.9 1172.6,236.5 1172.6,251.8 1174.5,259.5 1180.3,269.1 1178.4,280.7 1170.7,288.4 1163,298 1157.2,303.7 1156.3,311.4 1155.3,319.1 1163,324.9 1174.5,326.8 1177.4,340 1170.7,351.5 1164.9,359.2 1159.1,368.8 1153.4,378.4 1151.5,386.1 1155.3,393.8 1153.4,403.4 1163,413 1164.9,424.6 1164.9,436.1 1155.3,439.9 1149.5,447.6 1153.4,453.4 1164.9,455.3 1164.9,461.1 1155.3,464.9 1157.2,474.5 1155.3,482.2 1163,486 1163,559.8 1108.2,559.8 1113,566.5 1120.7,578 1126.5,581.9 1134.2,586.7 1132.2,606.9 1128.4,635.7 1124.5,664.5 1120.7,693.3 1116.9,720 1111.1,757.6 1105.3,796.1 1097.6,872.9 1078.4,873.9 1074.6,882.5 1063.1,887.4 1055.4,890 1042.2,893 1030.6,896.8 1034.5,891 978.7,890.1 978.7,856.4 927.8,856.4 926.9,870.8 900.9,870.8 900,873.7 861.5,874.7 861.5,878.5 850,878.5 783,879.5 783,843 717.6,843 717.6,835.3 678.8,835.6 678.8,853.8 666.3,853.8 665,856.9 626.3,857.5 626.3,880 605,878.8 600,876.3 596.3,882.5 590,886.3 583.8,883.8 582.5,877.5 587.5,872.5 602.5,868.8 613.8,867.5 616.9,862.5 615,857.5 547.5,856.9 547.5,826.3 541,814.2 495.9,814.2 495.9,780.5 380.6,780.5 385.4,775.7 387.3,766.1 389.2,758.4 390.2,748.8 391.1,739.2 395,735.4 395.9,726.7 410.4,725.8 410.4,694.3 397.9,693.3 397.9,627 385.4,626.1 384.4,594.4 379.6,582.8 372.9,581.9 372.9,559.8 398.8,558.8 398.8,530 401,400 402,340.5 442.7,340.5 443,328.7 445.9,317.2 446.9,309.5 452.6,301.8 454.6,292.2 458.4,288.4 466,284.5 470,280.7 473.8,274.9 457.4,274.9 458.4,240.3 466,239.4 473.8,242.2 473.8,209.6 471.8,207.6 468,205.7 465,201 466,191.3" fill="none" stroke="#000" stroke-width="3" stroke-linejoin="round"/>
<g clip-path="url(#cwa)"><g fill="none" stroke="#a6b0c2" stroke-width="1.4" stroke-linejoin="round">
<polyline points="460.1,245.1 580.2,246.8 580.2,260.1 620.2,260.1"/>
<polyline points="448.4,318.5 563.5,318.5 566.9,311.8"/>
<polyline points="588.6,313.5 588.6,450.3"/>
<polyline points="403.4,385.2 588.6,386.9"/>
<polyline points="403.4,450.3 623.6,452"/>
<polyline points="483.4,430.3 485.1,450.3"/>
<polyline points="535.2,452 535.2,523.4"/>
<polyline points="670.3,215 670.3,310"/>
<polyline points="747,330.2 790,323.5"/>
<polyline points="683.6,417 703.7,403.6 737,400.3 753.7,398.6 790,403.6"/>
<polyline points="816.7,193.4 821.7,216.7 810,243.4 793.4,256.8"/>
<polyline points="793.4,258.4 870.1,261.8 920.2,261.8"/>
<polyline points="953.5,186.7 953.5,210.1 920.2,220.1 920.2,260.1"/>
<polyline points="1030.3,186.7 1026.9,273.5"/>
<polyline points="920.2,260.1 936.8,270.1 956.9,280.1 986.9,296.8 996.9,283.5 1026.9,280.1"/>
<polyline points="1026.9,273.5 1103.7,275.1"/>
<polyline points="1105.3,280.7 1116.9,269.1 1126.5,257.6 1138,246.1 1134.2,232.6 1135.1,222.1 1159.1,221.5"/>
<polyline points="1105.3,274.9 1103.7,350.2 1133.7,350.2"/>
<polyline points="983.5,296.8 983.5,361.9"/>
<polyline points="935.2,361.9 1010.2,361.9"/>
<polyline points="870.1,261.8 870.1,303.5 860.1,313.5 823.4,340.2 820,356.9 806.7,356.9"/>
<polyline points="770,326.8 820,340.2"/>
<polyline points="820,356.9 860.1,363.5 903.5,386.9 936.8,366.9"/>
<polyline points="890.1,390.2 890.1,453.6"/>
<polyline points="900,452.4 963.5,453.6"/>
<polyline points="1010.2,356.9 1006.9,413.6 983.5,440.3 963.5,453.6"/>
<polyline points="1114,351.5 1111,409 1097.6,424.6 1097.6,455.3"/>
<polyline points="1068.8,455.3 1103.4,456.3 1109.2,464.9 1126.5,464 1147.6,456.3 1151.5,461.1"/>
<polyline points="1006.9,413.6 1036.9,416.9 1067,440.3 1067,480 1065.3,560.1"/>
<polyline points="792,376.9 792,459"/>
<polyline points="716,460.5 732,458.8 745,462 751.8,466.9 755,462 803.6,460.5 863.4,462"/>
<polyline points="750.2,466.9 750.2,560.8"/>
<polyline points="863.4,452.4 860.2,560.8"/>
<polyline points="863.4,452.4 900,452.4"/>
<polyline points="403.4,523.4 560.2,523.4"/>
<polyline points="560.2,523.4 560.2,600.1"/>
<polyline points="383.3,583.4 556.9,585.1"/>
<polyline points="403.4,648.5 513.5,650.2"/>
<polyline points="610.2,593.5 610.2,670.2 790,671.9"/>
<polyline points="728.7,563.4 728.7,636.8 740.4,640.2 740.4,670.2"/>
<polyline points="647,616.8 728.7,616.8"/>
<polyline points="603.6,630.2 623.6,620.2 647,626.8 683.6,620.2"/>
<polyline points="603.6,630.2 610.2,653.5 603.6,670.2"/>
<polyline points="513.5,683.5 556.9,703.6 583.5,703.6 583.5,683.5 610.2,683.5"/>
<polyline points="560.2,703.6 561,744.3 547.8,745 547.8,810.7"/>
<polyline points="610.2,683.5 611,734.5 626.7,745 626.7,791"/>
<polyline points="626.9,770.3 790,767"/>
<polyline points="730.4,671.9 730.4,770.3"/>
<polyline points="963.5,470 963.5,560.1"/>
<polyline points="1065.3,470 1065.3,560.1"/>
<polyline points="963.5,500 980.2,500 986.9,483.3 996.9,470"/>
<polyline points="821.7,563.4 821.7,598.5 833.4,600.1 835.1,663.5 848.4,663.5"/>
<polyline points="905.1,563.4 903.5,595.1 886.8,596.8 886.8,660.2"/>
<polyline points="953.5,563.4 953.5,595.1 970.2,596.8 971.9,620.2 980.2,621.8 980.2,660.2"/>
<polyline points="980.2,621.8 1070.3,621.8 1075.3,626.8 1077,693.6"/>
<polyline points="1067,563.4 1067,620.2"/>
<polyline points="848.4,660.2 976.9,661.9 976.9,683.5 1023.6,683.5 1023.6,787"/>
<polyline points="1023.6,693.6 1113.7,695.2"/>
<polyline points="848.4,715.2 926.8,716.9 953.5,716.9 963.5,686.9"/>
<polyline points="848.4,663.5 848.4,790.3"/>
<polyline points="953.5,716.9 953.5,790.3"/>
<polyline points="848.4,790.3 978.7,791.1 978.7,856.4"/>
<polyline points="978.7,788.2 1103.7,787"/>
<polyline points="875,793 875,856.4"/>
<polyline points="729.1,720 729.1,762.3 781,762.3 783,843"/>
<polyline points="783,768 850,770"/>
<polyline points="679.2,768 679.2,835.3"/>
<polyline points="547.8,791.7 626.7,791"/>
</g></g>
<g fill="none" stroke-linejoin="round" stroke-linecap="round">
<polyline points="519.9,385.2 523.7,393.8 535.3,401.5 537.2,424.6 558.3,432.2 569.8,440 581.4,451.5 591,462 606.3,500.2 615,515" stroke="#8a9ab0" stroke-width="2.6"/>
<polyline points="734.9,211.5 733,236.5 723.4,255.7 721.5,275 717.6,284.5 694.6,303.7 691,337.5 680,340 660,367.5 645,385 637.5,400 622.5,420 605,442.5 597.5,460 591,475" stroke="#8a9ab0" stroke-width="2.6"/>
<polyline points="373.8,581 423.8,566.5 460.3,551.1 481.5,547.3 504.5,537.7 529.5,530 550.6,524.5 562.2,522.5 580,522 612.9,518.6" stroke="#8a9ab0" stroke-width="2.6"/>
<polyline points="689,522.6 711.5,512 744.5,503.3 802.2,474.5 826,450 845.7,429.1 885.2,414.7 904.9,408.1 940,397.6 974.9,390 1007.6,380.4 1042.2,368.8 1093.8,357.3 1128.4,355.4 1147.6,345.8 1174.5,343.8" stroke="#8a9ab0" stroke-width="2.6"/>
<polyline points="738.7,271 756,280.7 773.3,290.3 792.6,292.2 821.4,293.2" stroke="#8a9ab0" stroke-width="2.6"/>
<polyline points="737,486 745,500 748,515 748.4,549.2 749.3,568.4" stroke="#8a9ab0" stroke-width="2.6"/>
<polyline points="690.7,562.7 711.8,580 729.1,591.5 744.5,597.3 783,610.7 802.2,620.3 813.7,637.6 834.8,645.3 865,660 880,670 895,677.5 920,700 946,720 965.3,733.5 984.5,739.2 1007.6,741.1 1032.6,742.1 1051.8,752.7 1090,755.5 1111,757" stroke="#8a9ab0" stroke-width="2.6"/>
<polyline points="652.3,530.5 658.9,548.9 661.9,593.4 667.6,612.6 669.6,649.1 675.3,672.2 682,689.7 684.7,709.4 681.1,720 679.2,764.2 686.9,793 694.6,831.5" stroke="#8a9ab0" stroke-width="2.6"/>
<polyline points="610,593.6 648.4,593.4 690.7,591.5 729.1,591.5 740,588.3" stroke="#8a9ab0" stroke-width="2.6"/>
<polygon points="640.5,531.8 653.6,541 691.8,538.4 689.1,525.2 677.3,513.4 656.3,514.7 641.8,533.1" stroke="#8a9ab0" stroke-width="2.6"/>
<polyline points="519.9,385.2 523.7,393.8 535.3,401.5 537.2,424.6 558.3,432.2 569.8,440 581.4,451.5 591,462 606.3,500.2 615,515" stroke="#f4f6fa" stroke-width="1.4"/>
<polyline points="734.9,211.5 733,236.5 723.4,255.7 721.5,275 717.6,284.5 694.6,303.7 691,337.5 680,340 660,367.5 645,385 637.5,400 622.5,420 605,442.5 597.5,460 591,475" stroke="#f4f6fa" stroke-width="1.4"/>
<polyline points="373.8,581 423.8,566.5 460.3,551.1 481.5,547.3 504.5,537.7 529.5,530 550.6,524.5 562.2,522.5 580,522 612.9,518.6" stroke="#f4f6fa" stroke-width="1.4"/>
<polyline points="689,522.6 711.5,512 744.5,503.3 802.2,474.5 826,450 845.7,429.1 885.2,414.7 904.9,408.1 940,397.6 974.9,390 1007.6,380.4 1042.2,368.8 1093.8,357.3 1128.4,355.4 1147.6,345.8 1174.5,343.8" stroke="#f4f6fa" stroke-width="1.4"/>
<polyline points="738.7,271 756,280.7 773.3,290.3 792.6,292.2 821.4,293.2" stroke="#f4f6fa" stroke-width="1.4"/>
<polyline points="737,486 745,500 748,515 748.4,549.2 749.3,568.4" stroke="#f4f6fa" stroke-width="1.4"/>
<polyline points="690.7,562.7 711.8,580 729.1,591.5 744.5,597.3 783,610.7 802.2,620.3 813.7,637.6 834.8,645.3 865,660 880,670 895,677.5 920,700 946,720 965.3,733.5 984.5,739.2 1007.6,741.1 1032.6,742.1 1051.8,752.7 1090,755.5 1111,757" stroke="#f4f6fa" stroke-width="1.4"/>
<polyline points="652.3,530.5 658.9,548.9 661.9,593.4 667.6,612.6 669.6,649.1 675.3,672.2 682,689.7 684.7,709.4 681.1,720 679.2,764.2 686.9,793 694.6,831.5" stroke="#f4f6fa" stroke-width="1.4"/>
<polyline points="610,593.6 648.4,593.4 690.7,591.5 729.1,591.5 740,588.3" stroke="#f4f6fa" stroke-width="1.4"/>
<polygon points="640.5,531.8 653.6,541 691.8,538.4 689.1,525.2 677.3,513.4 656.3,514.7 641.8,533.1" stroke="#f4f6fa" stroke-width="1.4"/>
<polyline points="620,187.5 621.3,191 626.3,197.5 625,205 627.5,207.5 638.8,211.3 642.5,215 643.8,220 641.3,227.5 640,232.5 643.8,237.5 638.8,242.5 633.8,245 625,252 618.8,257.5 610,261.3 603.8,268.8 592.4,281.4 582.3,291.6 572.2,301.7 567.2,311.8 733,311" stroke="#0d0d26" stroke-width="1.6"/>
<polyline points="586,561.3 1108.2,560.5" stroke="#0d0d26" stroke-width="1.6"/>
<polyline points="774.3,208 775.3,225 763.7,226.9 756,230.7 758,236.5 765.6,240.3 773.3,242.2 775.3,246.1 771.4,248 756,248 736.8,249 733,251.8 736.8,255.7 748,262 759.9,271 761.8,278.7 754.1,282.6 742.6,284.5 738.7,296 733,305 727.5,311.3 730,315 737.5,325 747.5,332.5 747.5,337.5 737.5,340 720,340 717.5,347.5 730,352.5 733.8,356.3 725,360 715,361.3 710,367.5 695,370 680,372.5 670,376.3 668,385 680,395 695,395 697.5,400 690,407.5 675,412.5 672.5,420 680,425 682.5,430 675,430 657.5,420 650,425 647.5,437.5 648,442 641.2,442 631,445 621,452.2 617,462.4 623,464.4 631,459.3 636,462.4 636,470.4 631,478.5 621,484.6 619,490.7 625,495.7 636,498.8 641.2,504.8 636.2,513 625,520 616.8,529.2 612.9,543.6 603.7,551.5 587.9,556.8 583.3,564.6 596.7,574.2 596.7,583.8 581.4,597.3 562.2,601.1 552.6,593.4 542.9,589.6 539.1,595.3 544.9,603 546.8,618.4 539.1,628 529.5,626.1 531.4,616.5 527.6,610.7 523.7,614.5 519.9,630 523.7,634.7 536,636 519.9,637.6 514.1,645.3 514.1,664.5 523.7,670.3 514.1,687.6 518,702.3 508.4,711.9 495,715.7 489.2,721.5 491.1,731.1 487.3,733 477.7,727.3 470,729.2 466,739.2 450.7,745 443,758.4 431.5,748.8 427.6,754.6 433.4,762.3 446.9,766.1 456.5,766.1 458.4,771.9 450.7,775.7 437.3,773.8 421.9,775.7 420,780.5" stroke="#0d0d26" stroke-width="1.6"/>
</g>
<g transform="translate(581,453) scale(0.980,0.885)"><path d="M1,2 Q4,0 7,2 Q10,0 13,2 Q16,0 19,2 L19,7 L1,7 Z" fill="#c0303a" stroke="#fff" stroke-width="0.8"/><path d="M1,7 L19,7 L19,12 Q19,17 10,20 Q1,17 1,12 Z" fill="#1f4e9a" stroke="#fff" stroke-width="0.8"/><text x="10" y="15" font-size="7" font-weight="bold" fill="#fff" text-anchor="middle">555</text></g>
<g transform="translate(727.2,476.4) scale(0.865,0.865)"><path d="M1,2 Q4,0 7,2 Q10,0 13,2 Q16,0 19,2 L19,7 L1,7 Z" fill="#c0303a" stroke="#fff" stroke-width="0.8"/><path d="M1,7 L19,7 L19,12 Q19,17 10,20 Q1,17 1,12 Z" fill="#1f4e9a" stroke="#fff" stroke-width="0.8"/><text x="10" y="15" font-size="7" font-weight="bold" fill="#fff" text-anchor="middle">385</text></g>
<g transform="translate(736.8,569.4) scale(1.010,0.910)"><path d="M1,2 Q4,0 7,2 Q10,0 13,2 Q16,0 19,2 L19,7 L1,7 Z" fill="#c0303a" stroke="#fff" stroke-width="0.8"/><path d="M1,7 L19,7 L19,12 Q19,17 10,20 Q1,17 1,12 Z" fill="#1f4e9a" stroke="#fff" stroke-width="0.8"/><text x="10" y="15" font-size="7" font-weight="bold" fill="#fff" text-anchor="middle">269</text></g>
<g transform="translate(668.6,672.2) scale(1.010,0.960)"><path d="M1,2 Q4,0 7,2 Q10,0 13,2 Q16,0 19,2 L19,7 L1,7 Z" fill="#c0303a" stroke="#fff" stroke-width="0.8"/><path d="M1,7 L19,7 L19,12 Q19,17 10,20 Q1,17 1,12 Z" fill="#1f4e9a" stroke="#fff" stroke-width="0.8"/><text x="10" y="15" font-size="8" font-weight="bold" fill="#fff" text-anchor="middle">55</text></g>
<g transform="translate(863.5,660.7) scale(0.860,0.765)"><path d="M1,2 Q4,0 7,2 Q10,0 13,2 Q16,0 19,2 L19,7 L1,7 Z" fill="#c0303a" stroke="#fff" stroke-width="0.8"/><path d="M1,7 L19,7 L19,12 Q19,17 10,20 Q1,17 1,12 Z" fill="#1f4e9a" stroke="#fff" stroke-width="0.8"/><text x="10" y="15" font-size="8" font-weight="bold" fill="#fff" text-anchor="middle">22</text></g>
<g transform="translate(886.5,401.5) scale(0.955,0.925)"><path d="M1,2 Q4,0 7,2 Q10,0 13,2 Q16,0 19,2 L19,7 L1,7 Z" fill="#c0303a" stroke="#fff" stroke-width="0.8"/><path d="M1,7 L19,7 L19,12 Q19,17 10,20 Q1,17 1,12 Z" fill="#1f4e9a" stroke="#fff" stroke-width="0.8"/><text x="10" y="15" font-size="8" font-weight="bold" fill="#fff" text-anchor="middle">40</text></g>
<g transform="translate(756,280.7) scale(0.865,0.765)"><path d="M1,2 Q4,0 7,2 Q10,0 13,2 Q16,0 19,2 L19,7 L1,7 Z" fill="#c0303a" stroke="#fff" stroke-width="0.8"/><path d="M1,7 L19,7 L19,12 Q19,17 10,20 Q1,17 1,12 Z" fill="#1f4e9a" stroke="#fff" stroke-width="0.8"/><text x="10" y="15" font-size="7" font-weight="bold" fill="#fff" text-anchor="middle">155</text></g>
<g transform="translate(846.7,233.5) scale(0.945,0.885)"><path d="M1,2 Q4,0 7,2 Q10,0 13,2 Q16,0 19,2 L19,7 L1,7 Z" fill="#c0303a" stroke="#fff" stroke-width="0.8"/><path d="M1,7 L19,7 L19,12 Q19,17 10,20 Q1,17 1,12 Z" fill="#1f4e9a" stroke="#fff" stroke-width="0.8"/><text x="10" y="15" font-size="8" font-weight="bold" fill="#fff" text-anchor="middle">51</text></g>
<g font-weight="bold" font-size="12.5" fill="#1c1c1c" stroke="#fff" stroke-width="6.4" stroke-linejoin="round" paint-order="stroke">
<text x="491.1" y="214.2" textLength="48.0" lengthAdjust="spacingAndGlyphs">Corning</text>
<text x="504.5" y="300.7" textLength="62.5" lengthAdjust="spacingAndGlyphs">Paragould</text>
<text x="591.4" y="219.5" textLength="42.9" lengthAdjust="spacingAndGlyphs">Piggott</text>
<text x="622.5" y="256.5" textLength="47.1" lengthAdjust="spacingAndGlyphs">Kennett</text>
<text x="760.8" y="221.0" textLength="62.5" lengthAdjust="spacingAndGlyphs">Tiptonville</text>
<text x="703.2" y="267.1" textLength="85.5" lengthAdjust="spacingAndGlyphs">Caruthersville</text>
<text x="781" y="306.5" textLength="64.4" lengthAdjust="spacingAndGlyphs">Dyersburg</text>
<text x="648.4" y="333.4" textLength="63.4" lengthAdjust="spacingAndGlyphs">Blytheville</text>
<text x="863.5" y="209.4" textLength="63.4" lengthAdjust="spacingAndGlyphs">Union City</text>
<text x="956.6" y="243.0" textLength="51.0" lengthAdjust="spacingAndGlyphs">Dresden</text>
<text x="900.9" y="319.9" textLength="47.1" lengthAdjust="spacingAndGlyphs">Trenton</text>
<text x="1016.2" y="315.1" textLength="72.1" lengthAdjust="spacingAndGlyphs">Huntingdon</text>
<text x="1062.1" y="240.2" textLength="30.7" lengthAdjust="spacingAndGlyphs">Paris</text>
<text x="1109.2" y="300.7" textLength="49.9" lengthAdjust="spacingAndGlyphs">Camden</text>
<text x="451.7" y="354.3" textLength="66.3" lengthAdjust="spacingAndGlyphs">Jonesboro</text>
<text x="537.2" y="354.3" textLength="28.8" lengthAdjust="spacingAndGlyphs">Lake</text>
<text x="539.1" y="368.7" textLength="23.1" lengthAdjust="spacingAndGlyphs">City</text>
<text x="448.8" y="424.4" textLength="65.3" lengthAdjust="spacingAndGlyphs">Harrisburg</text>
<text x="443" y="509.0" textLength="42.3" lengthAdjust="spacingAndGlyphs">Wynne</text>
<text x="642.7" y="389.8" textLength="49.9" lengthAdjust="spacingAndGlyphs">Osceola</text>
<text x="758.9" y="379.2" textLength="37.5" lengthAdjust="spacingAndGlyphs">Ripley</text>
<text x="716.6" y="424.4" textLength="63.4" lengthAdjust="spacingAndGlyphs">Covington</text>
<text x="590.5" y="510.7" textLength="41.4" lengthAdjust="spacingAndGlyphs">Marion</text>
<text x="620.7" y="527.6" textLength="54.8" lengthAdjust="spacingAndGlyphs">Memphis</text>
<text x="861.5" y="368.7" textLength="39.4" lengthAdjust="spacingAndGlyphs">Alamo</text>
<text x="930.7" y="411.0" textLength="51.9" lengthAdjust="spacingAndGlyphs">Jackson</text>
<text x="965.3" y="455.1" textLength="67.3" lengthAdjust="spacingAndGlyphs">Henderson</text>
<text x="891.3" y="501.3" textLength="43.2" lengthAdjust="spacingAndGlyphs">Bolivar</text>
<text x="990.3" y="522.4" textLength="42.3" lengthAdjust="spacingAndGlyphs">Selmer</text>
<text x="808.3" y="416.6" textLength="72.3" lengthAdjust="spacingAndGlyphs">Brownsville</text>
<text x="1029.7" y="403.3" textLength="61.2" lengthAdjust="spacingAndGlyphs">Lexington</text>
<text x="1092.8" y="418.6" textLength="73.1" lengthAdjust="spacingAndGlyphs">Decaturville</text>
<text x="1066" y="508.0" textLength="61.4" lengthAdjust="spacingAndGlyphs">Savannah</text>
<text x="790" y="504.0" textLength="64.5" lengthAdjust="spacingAndGlyphs">Somerville</text>
<text x="426.7" y="562.5" textLength="72.0" lengthAdjust="spacingAndGlyphs">Forrest City</text>
<text x="443" y="621.1" textLength="56.7" lengthAdjust="spacingAndGlyphs">Marianna</text>
<text x="544.9" y="643.2" textLength="39.4" lengthAdjust="spacingAndGlyphs">Tunica</text>
<text x="491.1" y="681.7" textLength="43.2" lengthAdjust="spacingAndGlyphs">Helena</text>
<text x="632.1" y="608.6" textLength="60.5" lengthAdjust="spacingAndGlyphs">Hernando</text>
<text x="636.9" y="659.5" textLength="61.5" lengthAdjust="spacingAndGlyphs">Senatobia</text>
<text x="756" y="623.0" textLength="82.7" lengthAdjust="spacingAndGlyphs">Holly Springs</text>
<text x="661.9" y="704.7" textLength="38.4" lengthAdjust="spacingAndGlyphs">Sardis</text>
<text x="758" y="720.5" textLength="44.0" lengthAdjust="spacingAndGlyphs">Oxford</text>
<text x="1005.6" y="580.8" textLength="46.2" lengthAdjust="spacingAndGlyphs">Corinth</text>
<text x="840" y="606.0" textLength="51.3" lengthAdjust="spacingAndGlyphs">Ashland</text>
<text x="902.8" y="631.7" textLength="38.5" lengthAdjust="spacingAndGlyphs">Ripley</text>
<text x="985.5" y="650.0" textLength="65.3" lengthAdjust="spacingAndGlyphs">Booneville</text>
<text x="872.1" y="691.3" textLength="72.1" lengthAdjust="spacingAndGlyphs">New Albany</text>
<text x="1098.6" y="611.5" textLength="25.9" lengthAdjust="spacingAndGlyphs">Iuka</text>
<text x="485.3" y="764.0" textLength="64.4" lengthAdjust="spacingAndGlyphs">Clarksdale</text>
<text x="573.7" y="749.6" textLength="36.3" lengthAdjust="spacingAndGlyphs">Marks</text>
<text x="543.9" y="820.7" textLength="48.1" lengthAdjust="spacingAndGlyphs">Sumner</text>
<text x="644.6" y="737.1" textLength="59.6" lengthAdjust="spacingAndGlyphs">Batesville</text>
<text x="714.7" y="776.5" textLength="75.0" lengthAdjust="spacingAndGlyphs">Water Valley</text>
<text x="611.9" y="813.1" textLength="68.2" lengthAdjust="spacingAndGlyphs">Charleston</text>
<text x="709" y="819.8" textLength="64.3" lengthAdjust="spacingAndGlyphs">Coffeeville</text>
<text x="797.4" y="829.4" textLength="52.6" lengthAdjust="spacingAndGlyphs">Pittsboro</text>
<text x="881.7" y="752.5" textLength="55.7" lengthAdjust="spacingAndGlyphs">Pontotoc</text>
<text x="963.4" y="749.6" textLength="40.3" lengthAdjust="spacingAndGlyphs">Tupelo</text>
<text x="1037.4" y="746.8" textLength="38.4" lengthAdjust="spacingAndGlyphs">Fulton</text>
<text x="945.1" y="814.0" textLength="50.9" lengthAdjust="spacingAndGlyphs">Okolona</text>
<text x="883.6" y="840.0" textLength="51.9" lengthAdjust="spacingAndGlyphs">Houston</text>
<text x="994.1" y="858.2" textLength="58.6" lengthAdjust="spacingAndGlyphs">Aberdeen</text>
</g>
<g stroke="#fff" stroke-width="5" stroke-linejoin="round" paint-order="stroke">
<text x="690.2" y="504.5" font-size="15.5" font-weight="normal" fill="#3a78c8" textLength="21.6" lengthAdjust="spacingAndGlyphs">5.6</text>
<text x="812.7" y="476.2" font-size="15.5" font-weight="normal" fill="#3a78c8" textLength="21.2" lengthAdjust="spacingAndGlyphs">6.3</text>
<text x="907.6" y="387.8" font-size="15.5" font-weight="normal" fill="#3a78c8" textLength="25.0" lengthAdjust="spacingAndGlyphs">4.5</text>
<text x="1129.4" y="330.4" font-size="15.5" font-weight="normal" fill="#3a78c8" textLength="8.6" lengthAdjust="spacingAndGlyphs">6</text>
<text x="696.3" y="533.5" font-size="17" font-weight="bold" fill="#6a6a6a" textLength="25.7" lengthAdjust="spacingAndGlyphs">4.7</text>
<text x="685.2" y="582.4" font-size="17" font-weight="bold" fill="#6a6a6a" textLength="26.3" lengthAdjust="spacingAndGlyphs">4.9</text>
</g>
<text x="83.8" y="410.5" font-size="17" font-weight="bold" fill="#151515" textLength="113" lengthAdjust="spacingAndGlyphs">Snowfall (In)</text>
<text x="138.5" y="451.5" font-size="18" fill="#111" stroke="#111" stroke-width="0.55">0</text>
<rect x="90.5" y="464.9" width="38" height="19" fill="#bdd7e7"/>
<text x="138.5" y="484.9" font-size="18" fill="#111" stroke="#111" stroke-width="0.55">< 1</text>
<rect x="90.5" y="498.2" width="38" height="19" fill="#6baed6"/>
<text x="138.5" y="518.2" font-size="18" fill="#111" stroke="#111" stroke-width="0.55">1 - 2</text>
<rect x="90.5" y="531.5" width="38" height="19" fill="#3182bd"/>
<text x="138.5" y="551.5" font-size="18" fill="#111" stroke="#111" stroke-width="0.55">2 - 3</text>
<rect x="90.5" y="564.9" width="38" height="19" fill="#08519c"/>
<text x="138.5" y="584.9" font-size="18" fill="#111" stroke="#111" stroke-width="0.55">3 - 4</text>
<rect x="90.5" y="598.2" width="38" height="19" fill="#082694"/>
<text x="138.5" y="618.2" font-size="18" fill="#111" stroke="#111" stroke-width="0.55">4 - 6</text>
<rect x="90.5" y="631.6" width="38" height="19" fill="#ffff96"/>
<text x="138.5" y="651.6" font-size="18" fill="#111" stroke="#111" stroke-width="0.55">6 - 8</text>
<rect x="90.5" y="665.0" width="38" height="19" fill="#ffc400"/>
<text x="138.5" y="685.0" font-size="18" fill="#111" stroke="#111" stroke-width="0.55">8 - 12</text>
<rect x="90.5" y="698.3" width="38" height="19" fill="#ff8700"/>
<text x="138.5" y="718.3" font-size="18" fill="#111" stroke="#111" stroke-width="0.55">12 - 18</text>
<rect x="90.5" y="731.7" width="38" height="19" fill="#db1400"/>
<text x="138.5" y="751.7" font-size="18" fill="#111" stroke="#111" stroke-width="0.55">18 - 24</text>
<rect x="90.5" y="765.0" width="38" height="19" fill="#9e0000"/>
<text x="138.5" y="785.0" font-size="18" fill="#111" stroke="#111" stroke-width="0.55">24 - 30</text>
<rect x="90.5" y="798.4" width="38" height="19" fill="#690000"/>
<text x="138.5" y="818.4" font-size="18" fill="#111" stroke="#111" stroke-width="0.55">30 - 36</text>
<rect x="90.5" y="831.7" width="38" height="19" fill="#2b0a3d"/>
<text x="138.5" y="851.7" font-size="18" fill="#111" stroke="#111" stroke-width="0.55">> 36</text>
<text x="577" y="916.8" font-size="12.9" font-weight="bold" fill="#222" text-anchor="middle">This map is an interpolation of actual reported values, but should be considered</text>
<text x="577" y="931.7" font-size="12.9" font-weight="bold" fill="#222" text-anchor="middle">an estimation only. Not all reports used in the analysis will be displayed due to</text>
<text x="577" y="946.6" font-size="12.9" font-weight="bold" fill="#222" text-anchor="middle">space constraints. Values may be estimated at locations and do not reflect official</text>
<text x="577" y="961.5" font-size="12.9" font-weight="bold" fill="#222" text-anchor="middle">climate data. Reports are snowfall through the above mentioned period.</text>
<circle cx="63.4" cy="64.7" r="49.7" fill="#2a9be0"/>
<clipPath id="noaaclip"><circle cx="63.4" cy="64.7" r="49.7"/></clipPath>
<g clip-path="url(#noaaclip)">
<path d="M10,10 L118,10 L118,38 L103,40 Q92,56 80,68 Q72,74 65.7,73 Q58,72 50,64 Q40,52 30,43 L10,37 Z" fill="#0c4ea2"/>
<path d="M10,37 Q22,38 30,43 Q40,52 50,64 Q58,72 65.7,73 Q72,74 80,68 Q92,56 103,40 L118,38 L118,46 Q108,46 100,56 Q90,68 80,76 Q88,75 84,78 Q70,86 50,84 Q58,80 62,78 Q50,76 42,66 Q30,54 22,52 Q14,50 10,50 Z" fill="#fff"/>
</g>
<text x="63" y="47.3" font-size="14.5" font-weight="bold" fill="#fff" text-anchor="middle" textLength="40" lengthAdjust="spacingAndGlyphs" font-family="Liberation Sans">NOAA</text>
<text x="8.82" y="74.76" font-size="7" font-weight="bold" fill="#2a2a2a" text-anchor="middle" dominant-baseline="central" transform="rotate(-100.4 8.82 74.76)">N</text>
<text x="8.14" y="69.86" font-size="7" font-weight="bold" fill="#2a2a2a" text-anchor="middle" dominant-baseline="central" transform="rotate(-95.3 8.14 69.86)">A</text>
<text x="7.90" y="65.30" font-size="7" font-weight="bold" fill="#2a2a2a" text-anchor="middle" dominant-baseline="central" transform="rotate(-90.6 7.90 65.30)">T</text>
<text x="7.95" y="62.25" font-size="7" font-weight="bold" fill="#2a2a2a" text-anchor="middle" dominant-baseline="central" transform="rotate(-87.5 7.95 62.25)">I</text>
<text x="8.23" y="58.65" font-size="7" font-weight="bold" fill="#2a2a2a" text-anchor="middle" dominant-baseline="central" transform="rotate(-83.7 8.23 58.65)">O</text>
<text x="9.03" y="53.57" font-size="7" font-weight="bold" fill="#2a2a2a" text-anchor="middle" dominant-baseline="central" transform="rotate(-78.4 9.03 53.57)">N</text>
<text x="10.24" y="48.77" font-size="7" font-weight="bold" fill="#2a2a2a" text-anchor="middle" dominant-baseline="central" transform="rotate(-73.3 10.24 48.77)">A</text>
<text x="11.72" y="44.45" font-size="7" font-weight="bold" fill="#2a2a2a" text-anchor="middle" dominant-baseline="central" transform="rotate(-68.6 11.72 44.45)">L</text>
<text x="14.52" y="38.41" font-size="7" font-weight="bold" fill="#2a2a2a" text-anchor="middle" dominant-baseline="central" transform="rotate(-61.7 14.52 38.41)">O</text>
<text x="17.16" y="34.00" font-size="7" font-weight="bold" fill="#2a2a2a" text-anchor="middle" dominant-baseline="central" transform="rotate(-56.4 17.16 34.00)">C</text>
<text x="19.96" y="30.15" font-size="7" font-weight="bold" fill="#2a2a2a" text-anchor="middle" dominant-baseline="central" transform="rotate(-51.5 19.96 30.15)">E</text>
<text x="23.08" y="26.56" font-size="7" font-weight="bold" fill="#2a2a2a" text-anchor="middle" dominant-baseline="central" transform="rotate(-46.6 23.08 26.56)">A</text>
<text x="26.64" y="23.12" font-size="7" font-weight="bold" fill="#2a2a2a" text-anchor="middle" dominant-baseline="central" transform="rotate(-41.5 26.64 23.12)">N</text>
<text x="29.28" y="20.93" font-size="7" font-weight="bold" fill="#2a2a2a" text-anchor="middle" dominant-baseline="central" transform="rotate(-37.9 29.28 20.93)">I</text>
<text x="32.04" y="18.91" font-size="7" font-weight="bold" fill="#2a2a2a" text-anchor="middle" dominant-baseline="central" transform="rotate(-34.4 32.04 18.91)">C</text>
<text x="37.93" y="15.39" font-size="7" font-weight="bold" fill="#2a2a2a" text-anchor="middle" dominant-baseline="central" transform="rotate(-27.3 37.93 15.39)">A</text>
<text x="42.42" y="13.32" font-size="7" font-weight="bold" fill="#2a2a2a" text-anchor="middle" dominant-baseline="central" transform="rotate(-22.2 42.42 13.32)">N</text>
<text x="47.08" y="11.65" font-size="7" font-weight="bold" fill="#2a2a2a" text-anchor="middle" dominant-baseline="central" transform="rotate(-17.1 47.08 11.65)">D</text>
<text x="53.74" y="10.05" font-size="7" font-weight="bold" fill="#2a2a2a" text-anchor="middle" dominant-baseline="central" transform="rotate(-10.0 53.74 10.05)">A</text>
<text x="58.26" y="9.44" font-size="7" font-weight="bold" fill="#2a2a2a" text-anchor="middle" dominant-baseline="central" transform="rotate(-5.3 58.26 9.44)">T</text>
<text x="63.21" y="9.20" font-size="7" font-weight="bold" fill="#2a2a2a" text-anchor="middle" dominant-baseline="central" transform="rotate(-0.2 63.21 9.20)">M</text>
<text x="68.72" y="9.46" font-size="7" font-weight="bold" fill="#2a2a2a" text-anchor="middle" dominant-baseline="central" transform="rotate(5.5 68.72 9.46)">O</text>
<text x="73.62" y="10.15" font-size="7" font-weight="bold" fill="#2a2a2a" text-anchor="middle" dominant-baseline="central" transform="rotate(10.6 73.62 10.15)">S</text>
<text x="78.07" y="11.18" font-size="7" font-weight="bold" fill="#2a2a2a" text-anchor="middle" dominant-baseline="central" transform="rotate(15.3 78.07 11.18)">P</text>
<text x="82.61" y="12.63" font-size="7" font-weight="bold" fill="#2a2a2a" text-anchor="middle" dominant-baseline="central" transform="rotate(20.2 82.61 12.63)">H</text>
<text x="87.00" y="14.47" font-size="7" font-weight="bold" fill="#2a2a2a" text-anchor="middle" dominant-baseline="central" transform="rotate(25.2 87.00 14.47)">E</text>
<text x="91.21" y="16.67" font-size="7" font-weight="bold" fill="#2a2a2a" text-anchor="middle" dominant-baseline="central" transform="rotate(30.1 91.21 16.67)">R</text>
<text x="94.13" y="18.48" font-size="7" font-weight="bold" fill="#2a2a2a" text-anchor="middle" dominant-baseline="central" transform="rotate(33.6 94.13 18.48)">I</text>
<text x="96.92" y="20.47" font-size="7" font-weight="bold" fill="#2a2a2a" text-anchor="middle" dominant-baseline="central" transform="rotate(37.2 96.92 20.47)">C</text>
<text x="102.11" y="24.93" font-size="7" font-weight="bold" fill="#2a2a2a" text-anchor="middle" dominant-baseline="central" transform="rotate(44.2 102.11 24.93)">A</text>
<text x="105.50" y="28.54" font-size="7" font-weight="bold" fill="#2a2a2a" text-anchor="middle" dominant-baseline="central" transform="rotate(49.3 105.50 28.54)">D</text>
<text x="108.78" y="32.74" font-size="7" font-weight="bold" fill="#2a2a2a" text-anchor="middle" dominant-baseline="central" transform="rotate(54.8 108.78 32.74)">M</text>
<text x="110.86" y="35.93" font-size="7" font-weight="bold" fill="#2a2a2a" text-anchor="middle" dominant-baseline="central" transform="rotate(58.8 110.86 35.93)">I</text>
<text x="112.54" y="38.91" font-size="7" font-weight="bold" fill="#2a2a2a" text-anchor="middle" dominant-baseline="central" transform="rotate(62.3 112.54 38.91)">N</text>
<text x="114.04" y="41.99" font-size="7" font-weight="bold" fill="#2a2a2a" text-anchor="middle" dominant-baseline="central" transform="rotate(65.9 114.04 41.99)">I</text>
<text x="115.28" y="44.99" font-size="7" font-weight="bold" fill="#2a2a2a" text-anchor="middle" dominant-baseline="central" transform="rotate(69.2 115.28 44.99)">S</text>
<text x="116.67" y="49.14" font-size="7" font-weight="bold" fill="#2a2a2a" text-anchor="middle" dominant-baseline="central" transform="rotate(73.7 116.67 49.14)">T</text>
<text x="117.77" y="53.57" font-size="7" font-weight="bold" fill="#2a2a2a" text-anchor="middle" dominant-baseline="central" transform="rotate(78.4 117.77 53.57)">R</text>
<text x="118.55" y="58.46" font-size="7" font-weight="bold" fill="#2a2a2a" text-anchor="middle" dominant-baseline="central" transform="rotate(83.5 118.55 58.46)">A</text>
<text x="118.87" y="63.01" font-size="7" font-weight="bold" fill="#2a2a2a" text-anchor="middle" dominant-baseline="central" transform="rotate(88.3 118.87 63.01)">T</text>
<text x="118.88" y="66.06" font-size="7" font-weight="bold" fill="#2a2a2a" text-anchor="middle" dominant-baseline="central" transform="rotate(91.4 118.88 66.06)">I</text>
<text x="118.68" y="69.67" font-size="7" font-weight="bold" fill="#2a2a2a" text-anchor="middle" dominant-baseline="central" transform="rotate(95.1 118.68 69.67)">O</text>
<text x="117.98" y="74.76" font-size="7" font-weight="bold" fill="#2a2a2a" text-anchor="middle" dominant-baseline="central" transform="rotate(100.4 117.98 74.76)">N</text>
<text x="14.74" y="92.42" font-size="7" font-weight="bold" fill="#2a2a2a" text-anchor="middle" dominant-baseline="central" transform="rotate(420.3 14.74 92.42)">U</text>
<text x="16.63" y="95.50" font-size="7" font-weight="bold" fill="#2a2a2a" text-anchor="middle" dominant-baseline="central" transform="rotate(416.6 16.63 95.50)">.</text>
<text x="18.59" y="98.29" font-size="7" font-weight="bold" fill="#2a2a2a" text-anchor="middle" dominant-baseline="central" transform="rotate(413.1 18.59 98.29)">S</text>
<text x="20.72" y="100.95" font-size="7" font-weight="bold" fill="#2a2a2a" text-anchor="middle" dominant-baseline="central" transform="rotate(409.7 20.72 100.95)">.</text>
<text x="24.56" y="105.04" font-size="7" font-weight="bold" fill="#2a2a2a" text-anchor="middle" dominant-baseline="central" transform="rotate(403.9 24.56 105.04)">D</text>
<text x="28.32" y="108.35" font-size="7" font-weight="bold" fill="#2a2a2a" text-anchor="middle" dominant-baseline="central" transform="rotate(398.8 28.32 108.35)">E</text>
<text x="32.20" y="111.21" font-size="7" font-weight="bold" fill="#2a2a2a" text-anchor="middle" dominant-baseline="central" transform="rotate(393.9 32.20 111.21)">P</text>
<text x="36.49" y="113.81" font-size="7" font-weight="bold" fill="#2a2a2a" text-anchor="middle" dominant-baseline="central" transform="rotate(388.7 36.49 113.81)">A</text>
<text x="41.17" y="116.10" font-size="7" font-weight="bold" fill="#2a2a2a" text-anchor="middle" dominant-baseline="central" transform="rotate(383.4 41.17 116.10)">R</text>
<text x="45.67" y="117.82" font-size="7" font-weight="bold" fill="#2a2a2a" text-anchor="middle" dominant-baseline="central" transform="rotate(378.5 45.67 117.82)">T</text>
<text x="50.68" y="119.24" font-size="7" font-weight="bold" fill="#2a2a2a" text-anchor="middle" dominant-baseline="central" transform="rotate(373.1 50.68 119.24)">M</text>
<text x="56.00" y="120.21" font-size="7" font-weight="bold" fill="#2a2a2a" text-anchor="middle" dominant-baseline="central" transform="rotate(367.6 56.00 120.21)">E</text>
<text x="61.00" y="120.65" font-size="7" font-weight="bold" fill="#2a2a2a" text-anchor="middle" dominant-baseline="central" transform="rotate(362.5 61.00 120.65)">N</text>
<text x="65.81" y="120.65" font-size="7" font-weight="bold" fill="#2a2a2a" text-anchor="middle" dominant-baseline="central" transform="rotate(357.5 65.81 120.65)">T</text>
<text x="72.79" y="119.91" font-size="7" font-weight="bold" fill="#2a2a2a" text-anchor="middle" dominant-baseline="central" transform="rotate(350.4 72.79 119.91)">O</text>
<text x="77.68" y="118.85" font-size="7" font-weight="bold" fill="#2a2a2a" text-anchor="middle" dominant-baseline="central" transform="rotate(345.2 77.68 118.85)">F</text>
<text x="84.15" y="116.71" font-size="7" font-weight="bold" fill="#2a2a2a" text-anchor="middle" dominant-baseline="central" transform="rotate(338.2 84.15 116.71)">C</text>
<text x="89.08" y="114.47" font-size="7" font-weight="bold" fill="#2a2a2a" text-anchor="middle" dominant-baseline="central" transform="rotate(332.7 89.08 114.47)">O</text>
<text x="94.10" y="111.54" font-size="7" font-weight="bold" fill="#2a2a2a" text-anchor="middle" dominant-baseline="central" transform="rotate(326.8 94.10 111.54)">M</text>
<text x="98.94" y="107.97" font-size="7" font-weight="bold" fill="#2a2a2a" text-anchor="middle" dominant-baseline="central" transform="rotate(320.6 98.94 107.97)">M</text>
<text x="102.96" y="104.34" font-size="7" font-weight="bold" fill="#2a2a2a" text-anchor="middle" dominant-baseline="central" transform="rotate(315.1 102.96 104.34)">E</text>
<text x="106.34" y="100.64" font-size="7" font-weight="bold" fill="#2a2a2a" text-anchor="middle" dominant-baseline="central" transform="rotate(309.9 106.34 100.64)">R</text>
<text x="109.50" y="96.50" font-size="7" font-weight="bold" fill="#2a2a2a" text-anchor="middle" dominant-baseline="central" transform="rotate(304.6 109.50 96.50)">C</text>
<text x="112.16" y="92.24" font-size="7" font-weight="bold" fill="#2a2a2a" text-anchor="middle" dominant-baseline="central" transform="rotate(299.5 112.16 92.24)">E</text><circle cx="1215" cy="68.6" r="41.0" fill="#1b1f8a"/>
<circle cx="1215" cy="68.6" r="38.5" fill="#2f9ad8"/>
<clipPath id="nwsclip"><circle cx="1215" cy="68.6" r="38.5"/></clipPath>
<g clip-path="url(#nwsclip)">
<line x1="1215" y1="78.6" x2="1171.7" y2="53.6" stroke="#1b1f8a" stroke-width="1"/>
<line x1="1215" y1="78.6" x2="1190.0" y2="35.3" stroke="#1b1f8a" stroke-width="1"/>
<line x1="1215" y1="78.6" x2="1215.0" y2="28.6" stroke="#1b1f8a" stroke-width="1"/>
<line x1="1215" y1="78.6" x2="1240.0" y2="35.3" stroke="#1b1f8a" stroke-width="1"/>
<line x1="1215" y1="78.6" x2="1258.3" y2="53.6" stroke="#1b1f8a" stroke-width="1"/>
<rect x="1170" y="82" width="90" height="40" fill="#fff"/>
<path d="M1170,102 Q1185,96 1200,101 Q1215,96 1230,101 Q1245,96 1260,102 L1260,120 L1170,120 Z" fill="#2f9ad8"/>
</g>
<path d="M1167,75 Q1165,64 1175,60 Q1178,50 1190,52 Q1198,42 1212,46 Q1225,40 1235,48 Q1248,48 1250,58 Q1262,62 1258,72 Q1262,82 1250,84 Q1245,92 1232,90 Q1222,96 1210,91 Q1198,96 1188,90 Q1175,92 1172,84 Q1163,82 1167,75 Z" fill="#1b1f8a"/>
<path d="M1182,34 L1196,35 L1212,58 L1208,59 L1222,78 L1219,79 L1245,103 L1213,82 L1216,81 L1200,63 L1204,62 Z" fill="#fff"/>
<text x="1165.82" y="50.23" font-size="10.5" font-weight="bold" fill="#d6343a" text-anchor="middle" dominant-baseline="central" transform="rotate(-69.5 1165.82 50.23)">N</text>
<text x="1168.40" y="44.42" font-size="10.5" font-weight="bold" fill="#d6343a" text-anchor="middle" dominant-baseline="central" transform="rotate(-62.6 1168.40 44.42)">A</text>
<text x="1171.40" y="39.36" font-size="10.5" font-weight="bold" fill="#d6343a" text-anchor="middle" dominant-baseline="central" transform="rotate(-56.2 1171.40 39.36)">T</text>
<text x="1173.70" y="36.19" font-size="10.5" font-weight="bold" fill="#d6343a" text-anchor="middle" dominant-baseline="central" transform="rotate(-51.9 1173.70 36.19)">I</text>
<text x="1176.73" y="32.66" font-size="10.5" font-weight="bold" fill="#d6343a" text-anchor="middle" dominant-baseline="central" transform="rotate(-46.8 1176.73 32.66)">O</text>
<text x="1181.55" y="28.14" font-size="10.5" font-weight="bold" fill="#d6343a" text-anchor="middle" dominant-baseline="central" transform="rotate(-39.6 1181.55 28.14)">N</text>
<text x="1186.69" y="24.38" font-size="10.5" font-weight="bold" fill="#d6343a" text-anchor="middle" dominant-baseline="central" transform="rotate(-32.6 1186.69 24.38)">A</text>
<text x="1191.81" y="21.50" font-size="10.5" font-weight="bold" fill="#d6343a" text-anchor="middle" dominant-baseline="central" transform="rotate(-26.2 1191.81 21.50)">L</text>
<text x="1200.48" y="18.15" font-size="10.5" font-weight="bold" fill="#d6343a" text-anchor="middle" dominant-baseline="central" transform="rotate(-16.1 1200.48 18.15)">W</text>
<text x="1207.42" y="16.65" font-size="10.5" font-weight="bold" fill="#d6343a" text-anchor="middle" dominant-baseline="central" transform="rotate(-8.3 1207.42 16.65)">E</text>
<text x="1213.52" y="16.12" font-size="10.5" font-weight="bold" fill="#d6343a" text-anchor="middle" dominant-baseline="central" transform="rotate(-1.6 1213.52 16.12)">A</text>
<text x="1219.39" y="16.28" font-size="10.5" font-weight="bold" fill="#d6343a" text-anchor="middle" dominant-baseline="central" transform="rotate(4.8 1219.39 16.28)">T</text>
<text x="1225.21" y="17.10" font-size="10.5" font-weight="bold" fill="#d6343a" text-anchor="middle" dominant-baseline="central" transform="rotate(11.2 1225.21 17.10)">H</text>
<text x="1231.14" y="18.64" font-size="10.5" font-weight="bold" fill="#d6343a" text-anchor="middle" dominant-baseline="central" transform="rotate(17.9 1231.14 18.64)">E</text>
<text x="1236.85" y="20.86" font-size="10.5" font-weight="bold" fill="#d6343a" text-anchor="middle" dominant-baseline="central" transform="rotate(24.6 1236.85 20.86)">R</text>
<text x="1244.32" y="25.05" font-size="10.5" font-weight="bold" fill="#d6343a" text-anchor="middle" dominant-baseline="central" transform="rotate(33.9 1244.32 25.05)">S</text>
<text x="1249.01" y="28.60" font-size="10.5" font-weight="bold" fill="#d6343a" text-anchor="middle" dominant-baseline="central" transform="rotate(40.4 1249.01 28.60)">E</text>
<text x="1253.43" y="32.83" font-size="10.5" font-weight="bold" fill="#d6343a" text-anchor="middle" dominant-baseline="central" transform="rotate(47.1 1253.43 32.83)">R</text>
<text x="1257.33" y="37.55" font-size="10.5" font-weight="bold" fill="#d6343a" text-anchor="middle" dominant-baseline="central" transform="rotate(53.7 1257.33 37.55)">V</text>
<text x="1259.66" y="41.01" font-size="10.5" font-weight="bold" fill="#d6343a" text-anchor="middle" dominant-baseline="central" transform="rotate(58.3 1259.66 41.01)">I</text>
<text x="1261.82" y="44.85" font-size="10.5" font-weight="bold" fill="#d6343a" text-anchor="middle" dominant-baseline="central" transform="rotate(63.1 1261.82 44.85)">C</text>
<text x="1264.27" y="50.46" font-size="10.5" font-weight="bold" fill="#d6343a" text-anchor="middle" dominant-baseline="central" transform="rotate(69.8 1264.27 50.46)">E</text>
<text x="1163.64" y="81.69" font-size="10.5" font-weight="bold" fill="#d6343a" text-anchor="middle" dominant-baseline="central" transform="rotate(435.7 1163.64 81.69)">U</text>
<text x="1164.85" y="85.75" font-size="10.5" font-weight="bold" fill="#d6343a" text-anchor="middle" dominant-baseline="central" transform="rotate(431.1 1164.85 85.75)">.</text>
<text x="1166.28" y="89.48" font-size="10.5" font-weight="bold" fill="#d6343a" text-anchor="middle" dominant-baseline="central" transform="rotate(426.8 1166.28 89.48)">S</text>
<text x="1168.00" y="93.09" font-size="10.5" font-weight="bold" fill="#d6343a" text-anchor="middle" dominant-baseline="central" transform="rotate(422.5 1168.00 93.09)">.</text>
<text x="1171.39" y="98.72" font-size="10.5" font-weight="bold" fill="#d6343a" text-anchor="middle" dominant-baseline="central" transform="rotate(415.4 1171.39 98.72)">D</text>
<text x="1174.99" y="103.36" font-size="10.5" font-weight="bold" fill="#d6343a" text-anchor="middle" dominant-baseline="central" transform="rotate(409.0 1174.99 103.36)">E</text>
<text x="1178.91" y="107.42" font-size="10.5" font-weight="bold" fill="#d6343a" text-anchor="middle" dominant-baseline="central" transform="rotate(402.9 1178.91 107.42)">P</text>
<text x="1183.43" y="111.17" font-size="10.5" font-weight="bold" fill="#d6343a" text-anchor="middle" dominant-baseline="central" transform="rotate(396.6 1183.43 111.17)">A</text>
<text x="1188.54" y="114.52" font-size="10.5" font-weight="bold" fill="#d6343a" text-anchor="middle" dominant-baseline="central" transform="rotate(390.0 1188.54 114.52)">R</text>
<text x="1193.56" y="117.07" font-size="10.5" font-weight="bold" fill="#d6343a" text-anchor="middle" dominant-baseline="central" transform="rotate(383.9 1193.56 117.07)">T</text>
<text x="1199.28" y="119.21" font-size="10.5" font-weight="bold" fill="#d6343a" text-anchor="middle" dominant-baseline="central" transform="rotate(377.3 1199.28 119.21)">M</text>
<text x="1205.44" y="120.73" font-size="10.5" font-weight="bold" fill="#d6343a" text-anchor="middle" dominant-baseline="central" transform="rotate(370.4 1205.44 120.73)">E</text>
<text x="1211.26" y="121.47" font-size="10.5" font-weight="bold" fill="#d6343a" text-anchor="middle" dominant-baseline="central" transform="rotate(364.0 1211.26 121.47)">N</text>
<text x="1216.90" y="121.57" font-size="10.5" font-weight="bold" fill="#d6343a" text-anchor="middle" dominant-baseline="central" transform="rotate(357.9 1216.90 121.57)">T</text>
<text x="1225.06" y="120.64" font-size="10.5" font-weight="bold" fill="#d6343a" text-anchor="middle" dominant-baseline="central" transform="rotate(349.1 1225.06 120.64)">O</text>
<text x="1230.76" y="119.20" font-size="10.5" font-weight="bold" fill="#d6343a" text-anchor="middle" dominant-baseline="central" transform="rotate(342.7 1230.76 119.20)">F</text>
<text x="1238.18" y="116.26" font-size="10.5" font-weight="bold" fill="#d6343a" text-anchor="middle" dominant-baseline="central" transform="rotate(334.1 1238.18 116.26)">C</text>
<text x="1243.70" y="113.15" font-size="10.5" font-weight="bold" fill="#d6343a" text-anchor="middle" dominant-baseline="central" transform="rotate(327.2 1243.70 113.15)">O</text>
<text x="1249.18" y="109.11" font-size="10.5" font-weight="bold" fill="#d6343a" text-anchor="middle" dominant-baseline="central" transform="rotate(319.8 1249.18 109.11)">M</text>
<text x="1254.25" y="104.22" font-size="10.5" font-weight="bold" fill="#d6343a" text-anchor="middle" dominant-baseline="central" transform="rotate(312.2 1254.25 104.22)">M</text>
<text x="1258.22" y="99.27" font-size="10.5" font-weight="bold" fill="#d6343a" text-anchor="middle" dominant-baseline="central" transform="rotate(305.4 1258.22 99.27)">E</text>
<text x="1261.35" y="94.30" font-size="10.5" font-weight="bold" fill="#d6343a" text-anchor="middle" dominant-baseline="central" transform="rotate(299.0 1261.35 94.30)">R</text>
<text x="1264.00" y="88.80" font-size="10.5" font-weight="bold" fill="#d6343a" text-anchor="middle" dominant-baseline="central" transform="rotate(292.4 1264.00 88.80)">C</text>
<text x="1265.93" y="83.25" font-size="10.5" font-weight="bold" fill="#d6343a" text-anchor="middle" dominant-baseline="central" transform="rotate(286.1 1265.93 83.25)">E</text>
<text x="1159.8" y="69" font-size="10" fill="#1b1f8a" text-anchor="middle">★</text>
<text x="1267.4" y="69" font-size="10" fill="#1b1f8a" text-anchor="middle">★</text><clipPath id="insclip"><rect x="8.5" y="151" width="264.5" height="215" rx="6"/></clipPath>
<g clip-path="url(#insclip)">
<polygon points="87.4,198.2 112.8,198.2 112.8,192.9 121.3,192.9 121.3,203 131,202.6 143.2,198.2 205,198.2 208.7,207.9 211,225 208.7,241.9 209,263.8 203.3,266.2 202.6,280.7 196.6,320.8 177,322 176,318.4 143.2,320.8 140.7,316 101.9,316 99.5,307.4 91,307.4 89.8,303.8 72.8,302.6 72.8,283.2 70.4,266.2 74,226 85,226 85,210.4" fill="#fba918"/>
<polyline points="8,198.2 112.8,198.2 117.7,205.5 104.3,220 132.2,220" fill="none" stroke="#111" stroke-width="1.3"/>
<polyline points="143.2,198.2 205,198.2 207.5,191 273,191.7" fill="none" stroke="#111" stroke-width="1.3"/>
<polyline points="111.6,265 273,265" fill="none" stroke="#111" stroke-width="1.3"/>
<polyline points="203.8,266.2 193,366" fill="none" stroke="#111" stroke-width="1.3"/>
<polyline points="8.5,352.3 68,353" fill="none" stroke="#111" stroke-width="1.3"/>
<polyline points="150.4,174 167.4,169 186.8,171.5 189,159.4 206.2,153.3 210,150" fill="none" stroke="#111" stroke-width="1.3"/>
<polyline points="70.4,367.0 71.3,362.7 69.9,358.8 66.5,354.4 67.4,350.9 71.1,348.5 74.0,344.2 71.2,341.4 68.1,338.8 67.1,334.6 70.0,331.8 71.9,328.6 73.1,325.0 71.6,321.8 70.7,318.4 70.4,315.2 72.9,312.2 73.9,308.3 74.6,303.9 77.3,302.0 81.4,301.1 83.6,298.5 83.4,294.2 84.3,290.6 88.7,288.2 93.2,285.7 94.4,282.4 94.9,278.8 96.6,275.5 100.0,274.0 103.4,272.3 105.2,269.5 106.6,266.3 108.1,263.6 111.3,260.1 114.7,256.6 114.8,253.2 113.5,249.2 115.0,245.8 119.6,243.9 122.8,241.1 123.7,236.1 125.0,230.9 128.0,229.1 131.5,227.6 132.6,224.5 132.9,221.1 133.6,217.8 135.8,213.9 138.6,210.2 139.8,207.2 139.4,203.7 139.2,199.8 142.1,197.6 146.0,196.0 147.4,192.8 146.9,187.9 149.5,182.9 155.3,183.7 157.6,180.8 157.5,177.4 157.2,174.4 154.4,171.4 152.1,167.9 149.0,165.7 145.8,164.2 144.1,161.4 143.0,158.4 143.5,154.9 142,152" fill="none" stroke="#111" stroke-width="1.5" stroke-linejoin="round" stroke-linecap="round"/>
</g>
<text x="83" y="181" font-size="10.5" fill="#222" text-anchor="middle">MO</text>
<text x="218" y="178" font-size="10.5" fill="#222" text-anchor="middle">KY</text>
<text x="162.5" y="163" font-size="10.5" fill="#222" text-anchor="middle">IL</text>
<text x="227.5" y="231" font-size="10.5" fill="#222" text-anchor="middle">TN</text>
<text x="66" y="260" font-size="10.5" fill="#222" text-anchor="middle">AR</text>
<text x="124.3" y="325" font-size="10.5" fill="#222" text-anchor="middle">MS</text>
<text x="235.7" y="321" font-size="10.5" fill="#222" text-anchor="middle">AL</text>
<text x="38.8" y="363.5" font-size="10.5" fill="#222" text-anchor="middle">LA</text><text x="848.6" y="927.5" font-size="14.3" font-weight="bold" fill="#e9b04a" textLength="106.4" lengthAdjust="spacingAndGlyphs">Data Sources:</text>
<text x="966.3" y="920.3" font-size="12.9" font-weight="bold" fill="#6a6a6a">NWS COOP</text>
<text x="966.3" y="935.2" font-size="12.9" font-weight="bold" fill="#3a78c8">CoCoRaHs</text>
<text x="1054.8" y="920.8" font-size="12.9" font-weight="bold" fill="#d0343a">ASOS/AWOS</text>
<text x="1050.4" y="935.6" font-size="12.9" font-weight="bold" fill="#111">Miscellaneous</text>
<text x="1151" y="920.8" font-size="12.9" font-weight="bold" fill="#49a83c">Mesonet</text>
<rect x="863.7" y="967.5" width="302.9" height="10.2" fill="#000"/>
<rect x="898.4" y="969.3" width="32.6" height="6.6" fill="#fff"/>
<rect x="965.5" y="969.3" width="99.5" height="6.6" fill="#fff"/>
<text x="864" y="959.3" font-size="14" fill="#222" text-anchor="middle">0</text>
<text x="914.8" y="959.3" font-size="14" fill="#222" text-anchor="middle">14</text>
<text x="964.6" y="959.3" font-size="14" fill="#222" text-anchor="middle">28</text>
<text x="1065" y="959.3" font-size="14" fill="#222" text-anchor="middle">56</text>
<text x="1166" y="959.3" font-size="14" fill="#222" text-anchor="middle">84</text>
<text x="1172.8" y="977.5" font-size="14.5" fill="#222">Miles</text>
<circle cx="1230.8" cy="943" r="20.6" fill="none" stroke="#111" stroke-width="2.6"/>
<circle cx="1230.8" cy="943" r="18.6" fill="none" stroke="#999" stroke-width="0.6"/>
<polygon points="1230.8,917.5 1233.8,940.0 1230.8,943.0" fill="#fff" stroke="#333" stroke-width="0.5"/>
<polygon points="1230.8,917.5 1227.8,940.0 1230.8,943.0" fill="#111"/>
<polygon points="1243.2,930.6 1234.0,943.0 1230.8,943.0" fill="#fff" stroke="#333" stroke-width="0.5"/>
<polygon points="1243.2,930.6 1230.8,939.8 1230.8,943.0" fill="#111"/>
<polygon points="1256.3,943.0 1233.8,946.0 1230.8,943.0" fill="#fff" stroke="#333" stroke-width="0.5"/>
<polygon points="1256.3,943.0 1233.8,940.0 1230.8,943.0" fill="#111"/>
<polygon points="1243.2,955.4 1230.8,946.2 1230.8,943.0" fill="#fff" stroke="#333" stroke-width="0.5"/>
<polygon points="1243.2,955.4 1234.0,943.0 1230.8,943.0" fill="#111"/>
<polygon points="1230.8,968.5 1227.8,946.0 1230.8,943.0" fill="#fff" stroke="#333" stroke-width="0.5"/>
<polygon points="1230.8,968.5 1233.8,946.0 1230.8,943.0" fill="#111"/>
<polygon points="1218.4,955.4 1227.6,943.0 1230.8,943.0" fill="#fff" stroke="#333" stroke-width="0.5"/>
<polygon points="1218.4,955.4 1230.8,946.2 1230.8,943.0" fill="#111"/>
<polygon points="1205.3,943.0 1227.8,940.0 1230.8,943.0" fill="#fff" stroke="#333" stroke-width="0.5"/>
<polygon points="1205.3,943.0 1227.8,946.0 1230.8,943.0" fill="#111"/>
<polygon points="1218.4,930.6 1230.8,939.8 1230.8,943.0" fill="#fff" stroke="#333" stroke-width="0.5"/>
<polygon points="1218.4,930.6 1227.6,943.0 1230.8,943.0" fill="#111"/>
<g font-family="Liberation Serif" font-size="12" fill="#333" text-anchor="middle"><text x="1230.4" y="914.5">N</text><text x="1230.6" y="980">S</text><text x="1198.2" y="947.3">W</text><text x="1262.2" y="948.3">E</text></g>
</svg></body></html>
